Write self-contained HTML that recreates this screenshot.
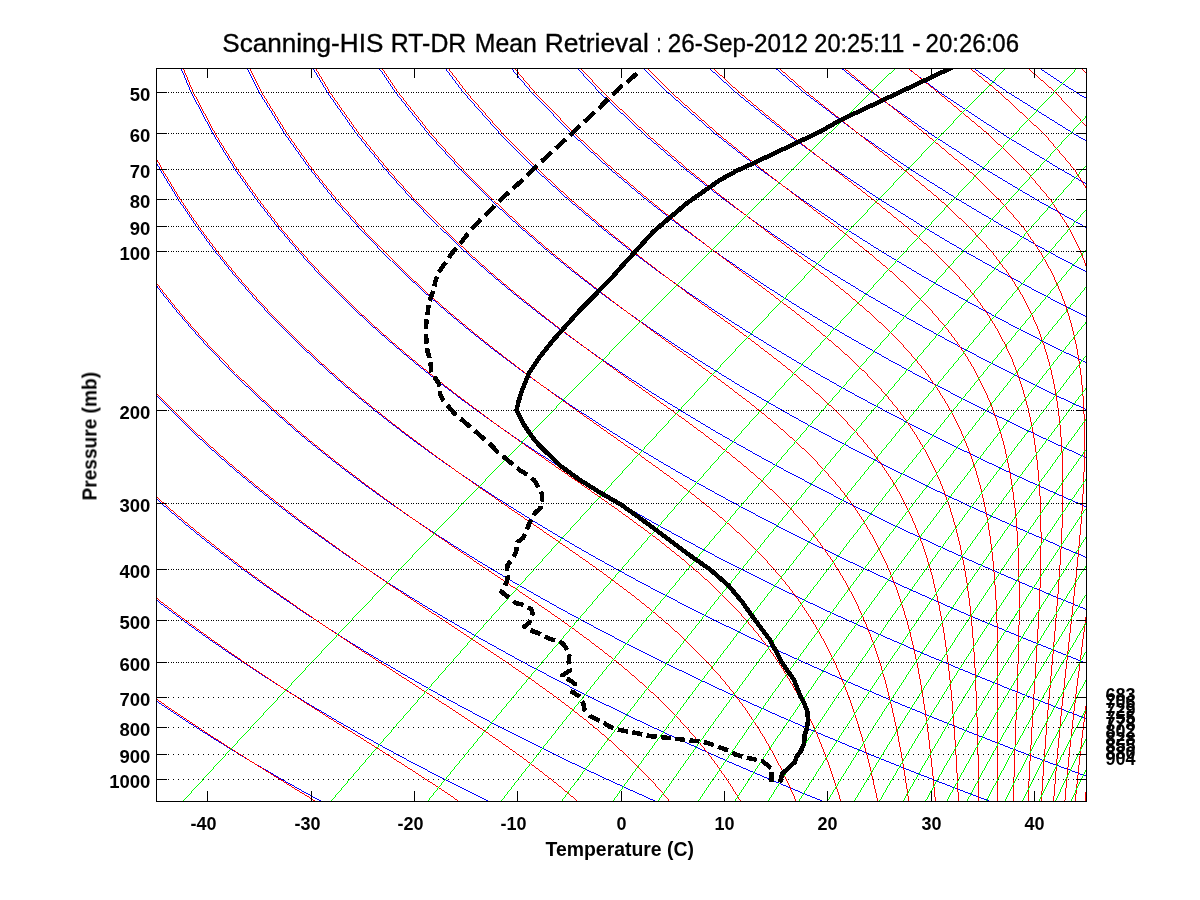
<!DOCTYPE html><html><head><meta charset="utf-8"><style>html,body{margin:0;padding:0;background:#fff;}svg{display:block;}text{font-family:"Liberation Sans",sans-serif;}</style></head><body><svg width="1200" height="900" viewBox="0 0 1200 900"><rect width="1200" height="900" fill="#fff"/><defs><clipPath id="pc"><rect x="157" y="69" width="929" height="732"/></clipPath></defs><g clip-path="url(#pc)" fill="none" stroke-width="1" shape-rendering="crispEdges"><path fill="#0000ff" stroke="none" d="M154.0,801.9 150.6,799.8 150.6,798.8 154.0,800.9ZM321.3,801.9 317.4,799.8 313.6,797.6 309.7,795.5 305.8,793.4 301.9,791.2 298.0,789.0 294.1,786.8 290.1,784.5 286.1,782.3 282.1,780.0 278.1,777.7 274.1,775.4 270.0,773.0 266.0,770.6 261.9,768.2 257.7,765.8 253.6,763.4 249.4,760.9 245.2,758.4 241.0,755.8 236.8,753.3 232.6,750.7 228.3,748.1 224.0,745.4 219.7,742.7 215.3,740.0 211.0,737.3 206.6,734.5 202.1,731.7 197.7,728.8 193.2,725.9 188.7,723.0 184.2,720.1 179.7,717.1 175.1,714.0 170.5,710.9 165.8,707.8 161.2,704.7 156.5,701.5 151.8,698.2 151.8,697.2 156.5,700.5 161.2,703.7 165.8,706.8 170.5,709.9 175.1,713.0 179.7,716.1 184.2,719.1 188.7,722.0 193.2,724.9 197.7,727.8 202.1,730.7 206.6,733.5 211.0,736.3 215.3,739.0 219.7,741.7 224.0,744.4 228.3,747.1 232.6,749.7 236.8,752.3 241.0,754.8 245.2,757.4 249.4,759.9 253.6,762.4 257.7,764.8 261.9,767.2 266.0,769.6 270.0,772.0 274.1,774.4 278.1,776.7 282.1,779.0 286.1,781.3 290.1,783.5 294.1,785.8 298.0,788.0 301.9,790.2 305.8,792.4 309.7,794.5 313.6,796.6 317.4,798.8 321.3,800.9ZM488.5,801.9 484.3,799.8 480.0,797.6 475.6,795.5 471.3,793.4 466.9,791.2 462.6,789.0 458.2,786.8 453.7,784.5 449.3,782.3 444.8,780.0 440.3,777.7 435.8,775.4 431.3,773.0 426.7,770.6 422.1,768.2 417.5,765.8 412.9,763.4 408.2,760.9 403.5,758.4 398.8,755.8 394.1,753.3 389.3,750.7 384.5,748.1 379.7,745.4 374.8,742.7 370.0,740.0 365.1,737.3 360.1,734.5 355.2,731.7 350.2,728.8 345.1,725.9 340.1,723.0 335.0,720.1 329.9,717.1 324.7,714.0 319.5,710.9 314.3,707.8 309.1,704.7 303.8,701.5 298.4,698.2 293.1,694.9 287.7,691.6 282.2,688.2 276.8,684.7 271.3,681.2 265.7,677.7 260.1,674.0 254.5,670.4 248.8,666.6 243.1,662.9 237.3,659.0 231.5,655.1 225.7,651.1 219.8,647.0 213.8,642.9 207.8,638.7 201.8,634.4 195.7,630.0 189.6,625.6 183.4,621.0 177.1,616.4 170.8,611.7 164.5,606.9 158.1,601.9 151.6,596.9 151.6,595.9 158.1,600.9 164.5,605.9 170.8,610.7 177.1,615.4 183.4,620.0 189.6,624.6 195.7,629.0 201.8,633.4 207.8,637.7 213.8,641.9 219.8,646.0 225.7,650.1 231.5,654.1 237.3,658.0 243.1,661.9 248.8,665.6 254.5,669.4 260.1,673.0 265.7,676.7 271.3,680.2 276.8,683.7 282.2,687.2 287.7,690.6 293.1,693.9 298.4,697.2 303.8,700.5 309.1,703.7 314.3,706.8 319.5,709.9 324.7,713.0 329.9,716.1 335.0,719.1 340.1,722.0 345.1,724.9 350.2,727.8 355.2,730.7 360.1,733.5 365.1,736.3 370.0,739.0 374.8,741.7 379.7,744.4 384.5,747.1 389.3,749.7 394.1,752.3 398.8,754.8 403.5,757.4 408.2,759.9 412.9,762.4 417.5,764.8 422.1,767.2 426.7,769.6 431.3,772.0 435.8,774.4 440.3,776.7 444.8,779.0 449.3,781.3 453.7,783.5 458.2,785.8 462.6,788.0 466.9,790.2 471.3,792.4 475.6,794.5 480.0,796.6 484.3,798.8 488.5,800.9ZM655.8,801.9 651.1,799.8 646.3,797.6 641.6,795.5 636.8,793.4 632.0,791.2 627.1,789.0 622.3,786.8 617.4,784.5 612.5,782.3 607.5,780.0 602.5,777.7 597.5,775.4 592.5,773.0 587.5,770.6 582.4,768.2 577.3,765.8 572.2,763.4 567.0,760.9 561.8,758.4 556.6,755.8 551.3,753.3 546.1,750.7 540.7,748.1 535.4,745.4 530.0,742.7 524.6,740.0 519.2,737.3 513.7,734.5 508.2,731.7 502.6,728.8 497.0,725.9 491.4,723.0 485.8,720.1 480.1,717.1 474.3,714.0 468.6,710.9 462.8,707.8 456.9,704.7 451.0,701.5 445.1,698.2 439.1,694.9 433.1,691.6 427.0,688.2 420.9,684.7 414.8,681.2 408.6,677.7 402.3,674.0 396.0,670.4 389.7,666.6 383.3,662.9 376.9,659.0 370.4,655.1 363.8,651.1 357.2,647.0 350.5,642.9 343.8,638.7 337.1,634.4 330.2,630.0 323.3,625.6 316.4,621.0 309.3,616.4 302.2,611.7 295.1,606.9 287.9,601.9 280.6,596.9 273.2,591.7 265.8,586.5 258.2,581.1 250.6,575.5 243.0,569.9 235.2,564.1 227.4,558.1 219.5,552.0 211.4,545.7 203.3,539.2 195.1,532.6 186.8,525.8 178.5,518.7 170.0,511.4 161.4,503.9 152.7,496.1 152.7,495.1 161.4,502.9 170.0,510.4 178.5,517.7 186.8,524.8 195.1,531.6 203.3,538.2 211.4,544.7 219.5,551.0 227.4,557.1 235.2,563.1 243.0,568.9 250.6,574.5 258.2,580.1 265.8,585.5 273.2,590.7 280.6,595.9 287.9,600.9 295.1,605.9 302.2,610.7 309.3,615.4 316.4,620.0 323.3,624.6 330.2,629.0 337.1,633.4 343.8,637.7 350.5,641.9 357.2,646.0 363.8,650.1 370.4,654.1 376.9,658.0 383.3,661.9 389.7,665.6 396.0,669.4 402.3,673.0 408.6,676.7 414.8,680.2 420.9,683.7 427.0,687.2 433.1,690.6 439.1,693.9 445.1,697.2 451.0,700.5 456.9,703.7 462.8,706.8 468.6,709.9 474.3,713.0 480.1,716.1 485.8,719.1 491.4,722.0 497.0,724.9 502.6,727.8 508.2,730.7 513.7,733.5 519.2,736.3 524.6,739.0 530.0,741.7 535.4,744.4 540.7,747.1 546.1,749.7 551.3,752.3 556.6,754.8 561.8,757.4 567.0,759.9 572.2,762.4 577.3,764.8 582.4,767.2 587.5,769.6 592.5,772.0 597.5,774.4 602.5,776.7 607.5,779.0 612.5,781.3 617.4,783.5 622.3,785.8 627.1,788.0 632.0,790.2 636.8,792.4 641.6,794.5 646.3,796.6 651.1,798.8 655.8,800.9ZM823.0,801.9 817.9,799.8 812.7,797.6 807.5,795.5 802.2,793.4 797.0,791.2 791.7,789.0 786.3,786.8 781.0,784.5 775.6,782.3 770.2,780.0 764.8,777.7 759.3,775.4 753.8,773.0 748.2,770.6 742.7,768.2 737.1,765.8 731.5,763.4 725.8,760.9 720.1,758.4 714.4,755.8 708.6,753.3 702.8,750.7 697.0,748.1 691.1,745.4 685.2,742.7 679.3,740.0 673.3,737.3 667.3,734.5 661.2,731.7 655.1,728.8 649.0,725.9 642.8,723.0 636.5,720.1 630.3,717.1 624.0,714.0 617.6,710.9 611.2,707.8 604.8,704.7 598.3,701.5 591.8,698.2 585.2,694.9 578.5,691.6 571.8,688.2 565.1,684.7 558.3,681.2 551.5,677.7 544.6,674.0 537.6,670.4 530.6,666.6 523.5,662.9 516.4,659.0 509.2,655.1 502.0,651.1 494.7,647.0 487.3,642.9 479.8,638.7 472.3,634.4 464.7,630.0 457.1,625.6 449.3,621.0 441.5,616.4 433.7,611.7 425.7,606.9 417.7,601.9 409.5,596.9 401.3,591.7 393.0,586.5 384.7,581.1 376.2,575.5 367.6,569.9 358.9,564.1 350.2,558.1 341.3,552.0 332.3,545.7 323.2,539.2 314.0,532.6 304.7,525.8 295.3,518.7 285.7,511.4 276.0,503.9 266.2,496.1 256.2,488.1 246.1,479.7 235.8,471.1 225.4,462.1 214.9,452.7 204.2,443.0 193.3,432.8 182.2,422.1 171.0,410.9 171.0,409.9 182.2,421.1 193.3,431.8 204.2,442.0 214.9,451.7 225.4,461.1 235.8,470.1 246.1,478.7 256.2,487.1 266.2,495.1 276.0,502.9 285.7,510.4 295.3,517.7 304.7,524.8 314.0,531.6 323.2,538.2 332.3,544.7 341.3,551.0 350.2,557.1 358.9,563.1 367.6,568.9 376.2,574.5 384.7,580.1 393.0,585.5 401.3,590.7 409.5,595.9 417.7,600.9 425.7,605.9 433.7,610.7 441.5,615.4 449.3,620.0 457.1,624.6 464.7,629.0 472.3,633.4 479.8,637.7 487.3,641.9 494.7,646.0 502.0,650.1 509.2,654.1 516.4,658.0 523.5,661.9 530.6,665.6 537.6,669.4 544.6,673.0 551.5,676.7 558.3,680.2 565.1,683.7 571.8,687.2 578.5,690.6 585.2,693.9 591.8,697.2 598.3,700.5 604.8,703.7 611.2,706.8 617.6,709.9 624.0,713.0 630.3,716.1 636.5,719.1 642.8,722.0 649.0,724.9 655.1,727.8 661.2,730.7 667.3,733.5 673.3,736.3 679.3,739.0 685.2,741.7 691.1,744.4 697.0,747.1 702.8,749.7 708.6,752.3 714.4,754.8 720.1,757.4 725.8,759.9 731.5,762.4 737.1,764.8 742.7,767.2 748.2,769.6 753.8,772.0 759.3,774.4 764.8,776.7 770.2,779.0 775.6,781.3 781.0,783.5 786.3,785.8 791.7,788.0 797.0,790.2 802.2,792.4 807.5,794.5 812.7,796.6 817.9,798.8 823.0,800.9ZM170.5,410.4 159.1,398.7 147.5,386.3 148.5,386.3 160.1,398.7 171.5,410.4ZM990.3,801.9 984.7,799.8 979.1,797.6 973.4,795.5 967.7,793.4 962.0,791.2 956.2,789.0 950.4,786.8 944.6,784.5 938.8,782.3 932.9,780.0 927.0,777.7 921.0,775.4 915.0,773.0 909.0,770.6 903.0,768.2 896.9,765.8 890.7,763.4 884.6,760.9 878.4,758.4 872.1,755.8 865.9,753.3 859.6,750.7 853.2,748.1 846.8,745.4 840.4,742.7 833.9,740.0 827.4,737.3 820.8,734.5 814.2,731.7 807.6,728.8 800.9,725.9 794.1,723.0 787.3,720.1 780.5,717.1 773.6,714.0 766.7,710.9 759.7,707.8 752.6,704.7 745.6,701.5 738.4,698.2 731.2,694.9 724.0,691.6 716.6,688.2 709.3,684.7 701.8,681.2 694.4,677.7 686.8,674.0 679.2,670.4 671.5,666.6 663.8,662.9 656.0,659.0 648.1,655.1 640.1,651.1 632.1,647.0 624.0,642.9 615.8,638.7 607.6,634.4 599.2,630.0 590.8,625.6 582.3,621.0 573.8,616.4 565.1,611.7 556.3,606.9 547.5,601.9 538.5,596.9 529.5,591.7 520.3,586.5 511.1,581.1 501.7,575.5 492.2,569.9 482.7,564.1 473.0,558.1 463.1,552.0 453.2,545.7 443.1,539.2 432.9,532.6 422.6,525.8 412.1,518.7 401.4,511.4 390.6,503.9 379.7,496.1 368.6,488.1 357.3,479.7 345.8,471.1 334.2,462.1 322.3,452.7 310.3,443.0 298.0,432.8 285.6,422.1 272.9,410.9 259.9,399.2 246.8,386.8 233.3,373.6 233.3,372.6 246.8,385.8 259.9,398.2 272.9,409.9 285.6,421.1 298.0,431.8 310.3,442.0 322.3,451.7 334.2,461.1 345.8,470.1 357.3,478.7 368.6,487.1 379.7,495.1 390.6,502.9 401.4,510.4 412.1,517.7 422.6,524.8 432.9,531.6 443.1,538.2 453.2,544.7 463.1,551.0 473.0,557.1 482.7,563.1 492.2,568.9 501.7,574.5 511.1,580.1 520.3,585.5 529.5,590.7 538.5,595.9 547.5,600.9 556.3,605.9 565.1,610.7 573.8,615.4 582.3,620.0 590.8,624.6 599.2,629.0 607.6,633.4 615.8,637.7 624.0,641.9 632.1,646.0 640.1,650.1 648.1,654.1 656.0,658.0 663.8,661.9 671.5,665.6 679.2,669.4 686.8,673.0 694.4,676.7 701.8,680.2 709.3,683.7 716.6,687.2 724.0,690.6 731.2,693.9 738.4,697.2 745.6,700.5 752.6,703.7 759.7,706.8 766.7,709.9 773.6,713.0 780.5,716.1 787.3,719.1 794.1,722.0 800.9,724.9 807.6,727.8 814.2,730.7 820.8,733.5 827.4,736.3 833.9,739.0 840.4,741.7 846.8,744.4 853.2,747.1 859.6,749.7 865.9,752.3 872.1,754.8 878.4,757.4 884.6,759.9 890.7,762.4 896.9,764.8 903.0,767.2 909.0,769.6 915.0,772.0 921.0,774.4 927.0,776.7 932.9,779.0 938.8,781.3 944.6,783.5 950.4,785.8 956.2,788.0 962.0,790.2 967.7,792.4 973.4,794.5 979.1,796.6 984.7,798.8 990.3,800.9ZM232.8,373.1 219.2,359.2 205.2,344.4 191.0,328.6 176.5,311.6 161.7,293.3 146.7,273.3 147.7,273.3 162.7,293.3 177.5,311.6 192.0,328.6 206.2,344.4 220.2,359.2 233.8,373.1ZM1089.2,777.7 1082.7,775.4 1076.3,773.0 1069.8,770.6 1063.2,768.2 1056.7,765.8 1050.0,763.4 1043.4,760.9 1036.7,758.4 1029.9,755.8 1023.1,753.3 1016.3,750.7 1009.4,748.1 1002.5,745.4 995.5,742.7 988.5,740.0 981.5,737.3 974.4,734.5 967.2,731.7 960.0,728.8 952.8,725.9 945.5,723.0 938.1,720.1 930.7,717.1 923.2,714.0 915.7,710.9 908.1,707.8 900.5,704.7 892.8,701.5 885.1,698.2 877.3,694.9 869.4,691.6 861.4,688.2 853.4,684.7 845.4,681.2 837.2,677.7 829.0,674.0 820.8,670.4 812.4,666.6 804.0,662.9 795.5,659.0 786.9,655.1 778.3,651.1 769.5,647.0 760.7,642.9 751.8,638.7 742.8,634.4 733.8,630.0 724.6,625.6 715.3,621.0 706.0,616.4 696.5,611.7 686.9,606.9 677.3,601.9 667.5,596.9 657.6,591.7 647.6,586.5 637.5,581.1 627.2,575.5 616.9,569.9 606.4,564.1 595.7,558.1 585.0,552.0 574.1,545.7 563.0,539.2 551.8,532.6 540.4,525.8 528.9,518.7 517.2,511.4 505.3,503.9 493.2,496.1 480.9,488.1 468.4,479.7 455.8,471.1 442.9,462.1 429.7,452.7 416.4,443.0 402.8,432.8 388.9,422.1 374.7,410.9 360.3,399.2 345.6,386.8 330.5,373.6 315.1,359.7 299.4,344.9 283.3,329.1 283.3,328.1 299.4,343.9 315.1,358.7 330.5,372.6 345.6,385.8 360.3,398.2 374.7,409.9 388.9,421.1 402.8,431.8 416.4,442.0 429.7,451.7 442.9,461.1 455.8,470.1 468.4,478.7 480.9,487.1 493.2,495.1 505.3,502.9 517.2,510.4 528.9,517.7 540.4,524.8 551.8,531.6 563.0,538.2 574.1,544.7 585.0,551.0 595.7,557.1 606.4,563.1 616.9,568.9 627.2,574.5 637.5,580.1 647.6,585.5 657.6,590.7 667.5,595.9 677.3,600.9 686.9,605.9 696.5,610.7 706.0,615.4 715.3,620.0 724.6,624.6 733.8,629.0 742.8,633.4 751.8,637.7 760.7,641.9 769.5,646.0 778.3,650.1 786.9,654.1 795.5,658.0 804.0,661.9 812.4,665.6 820.8,669.4 829.0,673.0 837.2,676.7 845.4,680.2 853.4,683.7 861.4,687.2 869.4,690.6 877.3,693.9 885.1,697.2 892.8,700.5 900.5,703.7 908.1,706.8 915.7,709.9 923.2,713.0 930.7,716.1 938.1,719.1 945.5,722.0 952.8,724.9 960.0,727.8 967.2,730.7 974.4,733.5 981.5,736.3 988.5,739.0 995.5,741.7 1002.5,744.4 1009.4,747.1 1016.3,749.7 1023.1,752.3 1029.9,754.8 1036.7,757.4 1043.4,759.9 1050.0,762.4 1056.7,764.8 1063.2,767.2 1069.8,769.6 1076.3,772.0 1082.7,774.4 1089.2,776.7ZM282.8,328.6 266.4,311.6 249.5,293.3 232.3,273.3 214.7,251.5 196.7,227.3 178.3,200.3 159.7,169.7 141.0,134.3 142.0,134.3 160.7,169.7 179.3,200.3 197.7,227.3 215.7,251.5 233.3,273.3 250.5,293.3 267.4,311.6 283.8,328.6ZM1096.8,723.0 1088.9,720.1 1080.9,717.1 1072.9,714.0 1064.8,710.9 1056.6,707.8 1048.4,704.7 1040.1,701.5 1031.7,698.2 1023.3,694.9 1014.8,691.6 1006.2,688.2 997.6,684.7 988.9,681.2 980.1,677.7 971.3,674.0 962.3,670.4 953.3,666.6 944.2,662.9 935.0,659.0 925.8,655.1 916.4,651.1 907.0,647.0 897.5,642.9 887.8,638.7 878.1,634.4 868.3,630.0 858.3,625.6 848.3,621.0 838.2,616.4 827.9,611.7 817.6,606.9 807.1,601.9 796.5,596.9 785.7,591.7 774.9,586.5 763.9,581.1 752.8,575.5 741.5,569.9 730.1,564.1 718.5,558.1 706.8,552.0 694.9,545.7 682.9,539.2 670.7,532.6 658.3,525.8 645.7,518.7 632.9,511.4 619.9,503.9 606.7,496.1 593.3,488.1 579.6,479.7 565.7,471.1 551.6,462.1 537.2,452.7 522.5,443.0 507.5,432.8 492.2,422.1 476.6,410.9 460.7,399.2 444.4,386.8 427.7,373.6 410.6,359.7 393.1,344.9 375.2,329.1 356.8,312.1 337.9,293.8 337.9,292.8 356.8,311.1 375.2,328.1 393.1,343.9 410.6,358.7 427.7,372.6 444.4,385.8 460.7,398.2 476.6,409.9 492.2,421.1 507.5,431.8 522.5,442.0 537.2,451.7 551.6,461.1 565.7,470.1 579.6,478.7 593.3,487.1 606.7,495.1 619.9,502.9 632.9,510.4 645.7,517.7 658.3,524.8 670.7,531.6 682.9,538.2 694.9,544.7 706.8,551.0 718.5,557.1 730.1,563.1 741.5,568.9 752.8,574.5 763.9,580.1 774.9,585.5 785.7,590.7 796.5,595.9 807.1,600.9 817.6,605.9 827.9,610.7 838.2,615.4 848.3,620.0 858.3,624.6 868.3,629.0 878.1,633.4 887.8,637.7 897.5,641.9 907.0,646.0 916.4,650.1 925.8,654.1 935.0,658.0 944.2,661.9 953.3,665.6 962.3,669.4 971.3,673.0 980.1,676.7 988.9,680.2 997.6,683.7 1006.2,687.2 1014.8,690.6 1023.3,693.9 1031.7,697.2 1040.1,700.5 1048.4,703.7 1056.6,706.8 1064.8,709.9 1072.9,713.0 1080.9,716.1 1088.9,719.1 1096.8,722.0ZM337.4,293.3 317.9,273.3 298.0,251.5 277.4,227.3 256.4,200.3 234.8,169.7 212.8,134.3 190.7,92.5 169.1,41.3 170.1,41.3 191.7,92.5 213.8,134.3 235.8,169.7 257.4,200.3 278.4,227.3 299.0,251.5 318.9,273.3 338.4,293.3ZM1094.2,666.6 1084.5,662.9 1074.6,659.0 1064.6,655.1 1054.6,651.1 1044.4,647.0 1034.2,642.9 1023.8,638.7 1013.4,634.4 1002.8,630.0 992.1,625.6 981.3,621.0 970.4,616.4 959.3,611.7 948.2,606.9 936.9,601.9 925.4,596.9 913.9,591.7 902.2,586.5 890.3,581.1 878.3,575.5 866.1,569.9 853.8,564.1 841.3,558.1 828.7,552.0 815.8,545.7 802.8,539.2 789.5,532.6 776.1,525.8 762.5,518.7 748.6,511.4 734.5,503.9 720.2,496.1 705.6,488.1 690.8,479.7 675.7,471.1 660.3,462.1 644.6,452.7 628.6,443.0 612.3,432.8 595.6,422.1 578.5,410.9 561.1,399.2 543.2,386.8 524.9,373.6 506.1,359.7 486.8,344.9 467.0,329.1 446.7,312.1 425.7,293.8 404.1,273.8 381.8,252.0 381.8,251.0 404.1,272.8 425.7,292.8 446.7,311.1 467.0,328.1 486.8,343.9 506.1,358.7 524.9,372.6 543.2,385.8 561.1,398.2 578.5,409.9 595.6,421.1 612.3,431.8 628.6,442.0 644.6,451.7 660.3,461.1 675.7,470.1 690.8,478.7 705.6,487.1 720.2,495.1 734.5,502.9 748.6,510.4 762.5,517.7 776.1,524.8 789.5,531.6 802.8,538.2 815.8,544.7 828.7,551.0 841.3,557.1 853.8,563.1 866.1,568.9 878.3,574.5 890.3,580.1 902.2,585.5 913.9,590.7 925.4,595.9 936.9,600.9 948.2,605.9 959.3,610.7 970.4,615.4 981.3,620.0 992.1,624.6 1002.8,629.0 1013.4,633.4 1023.8,637.7 1034.2,641.9 1044.4,646.0 1054.6,650.1 1064.6,654.1 1074.6,658.0 1084.5,661.9 1094.2,665.6ZM381.3,251.5 358.2,227.3 334.4,200.3 309.9,169.7 284.6,134.3 258.8,92.5 232.9,41.3 233.9,41.3 259.8,92.5 285.6,134.3 310.9,169.7 335.4,200.3 359.2,227.3 382.3,251.5ZM1090.8,611.7 1078.8,606.9 1066.7,601.9 1054.4,596.9 1042.0,591.7 1029.5,586.5 1016.7,581.1 1003.8,575.5 990.8,569.9 977.5,564.1 964.1,558.1 950.5,552.0 936.7,545.7 922.7,539.2 908.4,532.6 894.0,525.8 879.3,518.7 864.3,511.4 849.2,503.9 833.7,496.1 818.0,488.1 802.0,479.7 785.6,471.1 769.0,462.1 752.0,452.7 734.7,443.0 717.0,432.8 698.9,422.1 680.4,410.9 661.4,399.2 642.0,386.8 622.1,373.6 601.6,359.7 580.6,344.9 558.9,329.1 536.6,312.1 513.5,293.8 489.7,273.8 465.0,252.0 439.5,227.8 439.5,226.8 465.0,251.0 489.7,272.8 513.5,292.8 536.6,311.1 558.9,328.1 580.6,343.9 601.6,358.7 622.1,372.6 642.0,385.8 661.4,398.2 680.4,409.9 698.9,421.1 717.0,431.8 734.7,442.0 752.0,451.7 769.0,461.1 785.6,470.1 802.0,478.7 818.0,487.1 833.7,495.1 849.2,502.9 864.3,510.4 879.3,517.7 894.0,524.8 908.4,531.6 922.7,538.2 936.7,544.7 950.5,551.0 964.1,557.1 977.5,563.1 990.8,568.9 1003.8,574.5 1016.7,580.1 1029.5,585.5 1042.0,590.7 1054.4,595.9 1066.7,600.9 1078.8,605.9 1090.8,610.7ZM439.0,227.3 412.5,200.3 385.0,169.7 356.4,134.3 326.9,92.5 296.7,41.3 297.7,41.3 327.9,92.5 357.4,134.3 386.0,169.7 413.5,200.3 440.0,227.3ZM1101.3,564.1 1086.9,558.1 1072.3,552.0 1057.6,545.7 1042.5,539.2 1027.3,532.6 1011.8,525.8 996.1,518.7 980.1,511.4 963.8,503.9 947.2,496.1 930.3,488.1 913.1,479.7 895.6,471.1 877.7,462.1 859.5,452.7 840.8,443.0 821.8,432.8 802.2,422.1 782.3,410.9 761.8,399.2 740.8,386.8 719.3,373.6 697.1,359.7 674.3,344.9 650.7,329.1 626.4,312.1 601.3,293.8 575.3,273.8 548.3,252.0 520.3,227.8 491.0,200.8 491.0,199.8 520.3,226.8 548.3,251.0 575.3,272.8 601.3,292.8 626.4,311.1 650.7,328.1 674.3,343.9 697.1,358.7 719.3,372.6 740.8,385.8 761.8,398.2 782.3,409.9 802.2,421.1 821.8,431.8 840.8,442.0 859.5,451.7 877.7,461.1 895.6,470.1 913.1,478.7 930.3,487.1 947.2,495.1 963.8,502.9 980.1,510.4 996.1,517.7 1011.8,524.8 1027.3,531.6 1042.5,538.2 1057.6,544.7 1072.3,551.0 1086.9,557.1 1101.3,563.1ZM490.5,200.3 460.0,169.7 428.2,134.3 395.0,92.5 360.5,41.3 361.5,41.3 396.0,92.5 429.2,134.3 461.0,169.7 491.5,200.3ZM1095.8,511.4 1078.4,503.9 1060.7,496.1 1042.7,488.1 1024.3,479.7 1005.6,471.1 986.4,462.1 966.9,452.7 946.9,443.0 926.5,432.8 905.6,422.1 884.2,410.9 862.2,399.2 839.6,386.8 816.4,373.6 792.6,359.7 768.0,344.9 742.6,329.1 716.3,312.1 689.2,293.8 660.9,273.8 631.6,252.0 601.0,227.8 569.1,200.8 535.6,170.2 535.6,169.2 569.1,199.8 601.0,226.8 631.6,251.0 660.9,272.8 689.2,292.8 716.3,311.1 742.6,328.1 768.0,343.9 792.6,358.7 816.4,372.6 839.6,385.8 862.2,398.2 884.2,409.9 905.6,421.1 926.5,431.8 946.9,442.0 966.9,451.7 986.4,461.1 1005.6,470.1 1024.3,478.7 1042.7,487.1 1060.7,495.1 1078.4,502.9 1095.8,510.4ZM535.1,169.7 500.0,134.3 463.0,92.5 424.3,41.3 425.3,41.3 464.0,92.5 501.0,134.3 536.1,169.7ZM1095.1,462.1 1074.3,452.7 1053.0,443.0 1031.2,432.8 1008.9,422.1 986.0,410.9 962.6,399.2 938.4,386.8 913.6,373.6 888.0,359.7 861.7,344.9 834.4,329.1 806.2,312.1 777.0,293.8 746.6,273.8 714.9,252.0 681.8,227.8 647.1,200.8 610.7,170.2 572.3,134.8 572.3,133.8 610.7,169.2 647.1,199.8 681.8,226.8 714.9,251.0 746.6,272.8 777.0,292.8 806.2,311.1 834.4,328.1 861.7,343.9 888.0,358.7 913.6,372.6 938.4,385.8 962.6,398.2 986.0,409.9 1008.9,421.1 1031.2,431.8 1053.0,442.0 1074.3,451.7 1095.1,461.1ZM571.8,134.3 531.1,92.5 488.1,41.3 489.1,41.3 532.1,92.5 572.8,134.3ZM1112.3,422.1 1087.9,410.9 1062.9,399.2 1037.2,386.8 1010.8,373.6 983.5,359.7 955.4,344.9 926.3,329.1 896.1,312.1 864.8,293.8 832.2,273.8 798.2,252.0 762.6,227.8 725.2,200.8 685.8,170.2 644.1,134.8 599.7,93.0 599.7,92.0 644.1,133.8 685.8,169.2 725.2,199.8 762.6,226.8 798.2,251.0 832.2,272.8 864.8,292.8 896.1,311.1 926.3,328.1 955.4,343.9 983.5,358.7 1010.8,372.6 1037.2,385.8 1062.9,398.2 1087.9,409.9 1112.3,421.1ZM599.2,92.5 551.9,41.3 552.9,41.3 600.2,92.5ZM1108.0,373.6 1079.0,359.7 1049.1,344.9 1018.1,329.1 986.0,312.1 952.6,293.8 917.8,273.8 881.5,252.0 843.4,227.8 803.2,200.8 760.9,170.2 715.8,134.8 667.8,93.0 616.2,41.8 616.2,40.8 667.8,92.0 715.8,133.8 760.9,169.2 803.2,199.8 843.4,226.8 881.5,251.0 917.8,272.8 952.6,292.8 986.0,311.1 1018.1,328.1 1049.1,343.9 1079.0,358.7 1108.0,372.6ZM1110.0,329.1 1075.9,312.1 1040.4,293.8 1003.5,273.8 964.8,252.0 924.1,227.8 881.3,200.8 835.9,170.2 787.6,134.8 735.9,93.0 680.0,41.8 680.0,40.8 735.9,92.0 787.6,133.8 835.9,169.2 881.3,199.8 924.1,226.8 964.8,251.0 1003.5,272.8 1040.4,292.8 1075.9,311.1 1110.0,328.1ZM1089.1,273.8 1048.0,252.0 1004.9,227.8 959.4,200.8 911.0,170.2 859.4,134.8 804.0,93.0 743.8,41.8 743.8,40.8 804.0,92.0 859.4,133.8 911.0,169.2 959.4,199.8 1004.9,226.8 1048.0,251.0 1089.1,272.8ZM1131.3,252.0 1085.7,227.8 1037.4,200.8 986.1,170.2 931.2,134.8 872.0,93.0 807.6,41.8 807.6,40.8 872.0,92.0 931.2,133.8 986.1,169.2 1037.4,199.8 1085.7,226.8 1131.3,251.0ZM1115.5,200.8 1061.2,170.2 1003.0,134.8 940.1,93.0 871.4,41.8 871.4,40.8 940.1,92.0 1003.0,133.8 1061.2,169.2 1115.5,199.8ZM1136.3,170.2 1074.8,134.8 1008.2,93.0 935.2,41.8 935.2,40.8 1008.2,92.0 1074.8,133.8 1136.3,169.2ZM1146.6,134.8 1076.3,93.0 999.0,41.8 999.0,40.8 1076.3,92.0 1146.6,133.8ZM1144.4,93.0 1062.8,41.8 1062.8,40.8 1144.4,92.0Z"/><path fill="#ff0000" stroke="none" d="M156.9,801.9 153.7,799.8 153.7,798.8 156.9,800.9ZM315.5,801.9 312.1,799.8 308.7,797.6 305.2,795.5 301.7,793.4 298.2,791.2 294.7,789.0 291.1,786.8 287.4,784.5 283.8,782.3 280.1,780.0 276.4,777.7 272.6,775.4 268.9,773.0 265.0,770.6 261.2,768.2 257.3,765.8 253.4,763.4 249.5,760.9 245.5,758.4 241.5,755.8 237.5,753.3 233.4,750.7 229.3,748.1 225.1,745.4 221.0,742.7 216.8,740.0 212.5,737.3 208.3,734.5 204.0,731.7 199.7,728.8 195.3,725.9 190.9,723.0 186.5,720.1 182.0,717.1 177.5,714.0 173.0,710.9 168.4,707.8 163.8,704.7 159.2,701.5 154.5,698.2 149.8,694.9 149.8,693.9 154.5,697.2 159.2,700.5 163.8,703.7 168.4,706.8 173.0,709.9 177.5,713.0 182.0,716.1 186.5,719.1 190.9,722.0 195.3,724.9 199.7,727.8 204.0,730.7 208.3,733.5 212.5,736.3 216.8,739.0 221.0,741.7 225.1,744.4 229.3,747.1 233.4,749.7 237.5,752.3 241.5,754.8 245.5,757.4 249.5,759.9 253.4,762.4 257.3,764.8 261.2,767.2 265.0,769.6 268.9,772.0 272.6,774.4 276.4,776.7 280.1,779.0 283.8,781.3 287.4,783.5 291.1,785.8 294.7,788.0 298.2,790.2 301.7,792.4 305.2,794.5 308.7,796.6 312.1,798.8 315.5,800.9ZM459.0,801.9 455.9,799.8 452.8,797.6 449.7,795.5 446.4,793.4 443.2,791.2 439.9,789.0 436.5,786.8 433.1,784.5 429.7,782.3 426.2,780.0 422.7,777.7 419.1,775.4 415.4,773.0 411.7,770.6 408.0,768.2 404.2,765.8 400.4,763.4 396.5,760.9 392.5,758.4 388.6,755.8 384.5,753.3 380.4,750.7 376.3,748.1 372.1,745.4 367.8,742.7 363.5,740.0 359.2,737.3 354.7,734.5 350.3,731.7 345.8,728.8 341.2,725.9 336.6,723.0 331.9,720.1 327.2,717.1 322.4,714.0 317.6,710.9 312.7,707.8 307.7,704.7 302.8,701.5 297.7,698.2 292.6,694.9 287.5,691.6 282.3,688.2 277.1,684.7 271.8,681.2 266.4,677.7 261.0,674.0 255.6,670.4 250.0,666.6 244.5,662.9 238.9,659.0 233.2,655.1 227.5,651.1 221.7,647.0 215.8,642.9 209.9,638.7 204.0,634.4 198.0,630.0 191.9,625.6 185.8,621.0 179.6,616.4 173.4,611.7 167.1,606.9 160.7,601.9 154.3,596.9 147.8,591.7 147.8,590.7 154.3,595.9 160.7,600.9 167.1,605.9 173.4,610.7 179.6,615.4 185.8,620.0 191.9,624.6 198.0,629.0 204.0,633.4 209.9,637.7 215.8,641.9 221.7,646.0 227.5,650.1 233.2,654.1 238.9,658.0 244.5,661.9 250.0,665.6 255.6,669.4 261.0,673.0 266.4,676.7 271.8,680.2 277.1,683.7 282.3,687.2 287.5,690.6 292.6,693.9 297.7,697.2 302.8,700.5 307.7,703.7 312.7,706.8 317.6,709.9 322.4,713.0 327.2,716.1 331.9,719.1 336.6,722.0 341.2,724.9 345.8,727.8 350.3,730.7 354.7,733.5 359.2,736.3 363.5,739.0 367.8,741.7 372.1,744.4 376.3,747.1 380.4,749.7 384.5,752.3 388.6,754.8 392.5,757.4 396.5,759.9 400.4,762.4 404.2,764.8 408.0,767.2 411.7,769.6 415.4,772.0 419.1,774.4 422.7,776.7 426.2,779.0 429.7,781.3 433.1,783.5 436.5,785.8 439.9,788.0 443.2,790.2 446.4,792.4 449.7,794.5 452.8,796.6 455.9,798.8 459.0,800.9ZM577.6,801.9 575.2,799.8 572.7,797.6 570.2,795.5 567.6,793.4 565.0,791.2 562.4,789.0 559.7,786.8 556.9,784.5 554.1,782.3 551.2,780.0 548.3,777.7 545.3,775.4 542.3,773.0 539.2,770.6 536.0,768.2 532.8,765.8 529.5,763.4 526.2,760.9 522.8,758.4 519.3,755.8 515.8,753.3 512.2,750.7 508.5,748.1 504.7,745.4 500.9,742.7 497.0,740.0 493.1,737.3 489.0,734.5 484.9,731.7 480.7,728.8 476.5,725.9 472.1,723.0 467.7,720.1 463.2,717.1 458.6,714.0 453.9,710.9 449.1,707.8 444.3,704.7 439.4,701.5 434.4,698.2 429.3,694.9 424.1,691.6 418.9,688.2 413.6,684.7 408.2,681.2 402.7,677.7 397.1,674.0 391.4,670.4 385.7,666.6 379.8,662.9 373.9,659.0 367.9,655.1 361.8,651.1 355.6,647.0 349.3,642.9 343.0,638.7 336.5,634.4 330.0,630.0 323.4,625.6 316.7,621.0 309.9,616.4 303.1,611.7 296.1,606.9 289.1,601.9 281.9,596.9 274.7,591.7 267.4,586.5 260.0,581.1 252.5,575.5 245.0,569.9 237.3,564.1 229.6,558.1 221.7,552.0 213.8,545.7 205.7,539.2 197.6,532.6 189.3,525.8 181.0,518.7 172.5,511.4 164.0,503.9 155.3,496.1 146.5,488.1 146.5,487.1 155.3,495.1 164.0,502.9 172.5,510.4 181.0,517.7 189.3,524.8 197.6,531.6 205.7,538.2 213.8,544.7 221.7,551.0 229.6,557.1 237.3,563.1 245.0,568.9 252.5,574.5 260.0,580.1 267.4,585.5 274.7,590.7 281.9,595.9 289.1,600.9 296.1,605.9 303.1,610.7 309.9,615.4 316.7,620.0 323.4,624.6 330.0,629.0 336.5,633.4 343.0,637.7 349.3,641.9 355.6,646.0 361.8,650.1 367.9,654.1 373.9,658.0 379.8,661.9 385.7,665.6 391.4,669.4 397.1,673.0 402.7,676.7 408.2,680.2 413.6,683.7 418.9,687.2 424.1,690.6 429.3,693.9 434.4,697.2 439.4,700.5 444.3,703.7 449.1,706.8 453.9,709.9 458.6,713.0 463.2,716.1 467.7,719.1 472.1,722.0 476.5,724.9 480.7,727.8 484.9,730.7 489.0,733.5 493.1,736.3 497.0,739.0 500.9,741.7 504.7,744.4 508.5,747.1 512.2,749.7 515.8,752.3 519.3,754.8 522.8,757.4 526.2,759.9 529.5,762.4 532.8,764.8 536.0,767.2 539.2,769.6 542.3,772.0 545.3,774.4 548.3,776.7 551.2,779.0 554.1,781.3 556.9,783.5 559.7,785.8 562.4,788.0 565.0,790.2 567.6,792.4 570.2,794.5 572.7,796.6 575.2,798.8 577.6,800.9ZM669.2,801.4 667.5,799.3 665.7,797.1 663.8,795.0 662.0,792.9 660.0,790.7 658.1,788.5 656.1,786.3 654.1,784.0 652.0,781.8 649.8,779.5 647.7,777.2 645.4,774.9 643.2,772.5 640.9,770.1 638.5,767.7 639.5,767.7 641.9,770.1 644.2,772.5 646.4,774.9 648.7,777.2 650.8,779.5 653.0,781.8 655.1,784.0 657.1,786.3 659.1,788.5 661.0,790.7 663.0,792.9 664.8,795.0 666.7,797.1 668.5,799.3 670.2,801.4ZM639.0,768.2 636.5,765.8 634.1,763.4 631.5,760.9 628.9,758.4 626.2,755.8 623.5,753.3 620.7,750.7 617.8,748.1 614.9,745.4 611.9,742.7 608.8,740.0 605.6,737.3 602.4,734.5 599.1,731.7 595.7,728.8 592.2,725.9 588.6,723.0 585.0,720.1 581.2,717.1 577.3,714.0 573.4,710.9 569.3,707.8 565.2,704.7 560.9,701.5 556.5,698.2 552.1,694.9 547.5,691.6 542.8,688.2 538.0,684.7 533.1,681.2 528.0,677.7 522.9,674.0 517.6,670.4 512.2,666.6 506.6,662.9 500.9,659.0 495.1,655.1 489.2,651.1 483.1,647.0 476.9,642.9 470.6,638.7 464.1,634.4 457.5,630.0 450.7,625.6 443.9,621.0 436.9,616.4 429.7,611.7 422.4,606.9 415.0,601.9 407.4,596.9 399.8,591.7 391.9,586.5 384.0,581.1 375.9,575.5 367.7,569.9 359.3,564.1 350.8,558.1 342.2,552.0 333.5,545.7 324.6,539.2 315.5,532.6 306.4,525.8 297.1,518.7 287.6,511.4 278.1,503.9 268.3,496.1 258.4,488.1 248.3,479.7 238.1,471.1 227.7,462.1 217.2,452.7 206.4,443.0 195.6,432.8 184.5,422.1 173.3,410.9 173.3,409.9 184.5,421.1 195.6,431.8 206.4,442.0 217.2,451.7 227.7,461.1 238.1,470.1 248.3,478.7 258.4,487.1 268.3,495.1 278.1,502.9 287.6,510.4 297.1,517.7 306.4,524.8 315.5,531.6 324.6,538.2 333.5,544.7 342.2,551.0 350.8,557.1 359.3,563.1 367.7,568.9 375.9,574.5 384.0,580.1 391.9,585.5 399.8,590.7 407.4,595.9 415.0,600.9 422.4,605.9 429.7,610.7 436.9,615.4 443.9,620.0 450.7,624.6 457.5,629.0 464.1,633.4 470.6,637.7 476.9,641.9 483.1,646.0 489.2,650.1 495.1,654.1 500.9,658.0 506.6,661.9 512.2,665.6 517.6,669.4 522.9,673.0 528.0,676.7 533.1,680.2 538.0,683.7 542.8,687.2 547.5,690.6 552.1,693.9 556.5,697.2 560.9,700.5 565.2,703.7 569.3,706.8 573.4,709.9 577.3,713.0 581.2,716.1 585.0,719.1 588.6,722.0 592.2,724.9 595.7,727.8 599.1,730.7 602.4,733.5 605.6,736.3 608.8,739.0 611.9,741.7 614.9,744.4 617.8,747.1 620.7,749.7 623.5,752.3 626.2,754.8 628.9,757.4 631.5,759.9 634.1,762.4 636.5,764.8 639.0,767.2ZM172.8,410.4 161.3,398.7 149.7,386.3 150.7,386.3 162.3,398.7 173.8,410.4ZM740.1,801.4 738.8,799.3 737.6,797.1 736.3,795.0 734.9,792.9 733.6,790.7 732.2,788.5 730.8,786.3 729.3,784.0 727.8,781.8 726.3,779.5 724.8,777.2 723.2,774.9 721.5,772.5 719.9,770.1 718.2,767.7 716.4,765.3 714.6,762.9 712.8,760.4 710.9,757.9 709.0,755.3 707.0,752.8 705.0,750.2 702.9,747.6 700.8,744.9 698.6,742.2 696.4,739.5 694.0,736.8 691.7,734.0 689.2,731.2 686.7,728.3 684.1,725.4 681.4,722.5 678.7,719.6 675.9,716.6 673.0,713.5 670.0,710.4 666.9,707.3 667.9,707.3 671.0,710.4 674.0,713.5 676.9,716.6 679.7,719.6 682.4,722.5 685.1,725.4 687.7,728.3 690.2,731.2 692.7,734.0 695.0,736.8 697.4,739.5 699.6,742.2 701.8,744.9 703.9,747.6 706.0,750.2 708.0,752.8 710.0,755.3 711.9,757.9 713.8,760.4 715.6,762.9 717.4,765.3 719.2,767.7 720.9,770.1 722.5,772.5 724.2,774.9 725.8,777.2 727.3,779.5 728.8,781.8 730.3,784.0 731.8,786.3 733.2,788.5 734.6,790.7 735.9,792.9 737.3,795.0 738.6,797.1 739.8,799.3 741.1,801.4ZM667.4,707.8 664.2,704.7 660.9,701.5 657.5,698.2 654.1,694.9 650.5,691.6 646.8,688.2 642.9,684.7 639.0,681.2 634.9,677.7 630.7,674.0 626.4,670.4 621.9,666.6 617.3,662.9 612.5,659.0 607.5,655.1 602.4,651.1 597.1,647.0 591.7,642.9 586.1,638.7 580.3,634.4 574.3,630.0 568.1,625.6 561.7,621.0 555.2,616.4 548.4,611.7 541.4,606.9 534.3,601.9 526.9,596.9 519.3,591.7 511.5,586.5 503.5,581.1 495.3,575.5 486.9,569.9 478.3,564.1 469.5,558.1 460.4,552.0 451.2,545.7 441.7,539.2 432.1,532.6 422.2,525.8 412.2,518.7 401.9,511.4 391.5,503.9 380.8,496.1 369.9,488.1 358.8,479.7 347.4,471.1 335.9,462.1 324.2,452.7 312.2,443.0 300.0,432.8 287.6,422.1 274.9,410.9 262.0,399.2 248.9,386.8 235.5,373.6 235.5,372.6 248.9,385.8 262.0,398.2 274.9,409.9 287.6,421.1 300.0,431.8 312.2,442.0 324.2,451.7 335.9,461.1 347.4,470.1 358.8,478.7 369.9,487.1 380.8,495.1 391.5,502.9 401.9,510.4 412.2,517.7 422.2,524.8 432.1,531.6 441.7,538.2 451.2,544.7 460.4,551.0 469.5,557.1 478.3,563.1 486.9,568.9 495.3,574.5 503.5,580.1 511.5,585.5 519.3,590.7 526.9,595.9 534.3,600.9 541.4,605.9 548.4,610.7 555.2,615.4 561.7,620.0 568.1,624.6 574.3,629.0 580.3,633.4 586.1,637.7 591.7,641.9 597.1,646.0 602.4,650.1 607.5,654.1 612.5,658.0 617.3,661.9 621.9,665.6 626.4,669.4 630.7,673.0 634.9,676.7 639.0,680.2 642.9,683.7 646.8,687.2 650.5,690.6 654.1,693.9 657.5,697.2 660.9,700.5 664.2,703.7 667.4,706.8ZM235.0,373.1 221.3,359.2 207.4,344.4 193.1,328.6 178.6,311.6 163.8,293.3 148.8,273.3 149.8,273.3 164.8,293.3 179.6,311.6 194.1,328.6 208.4,344.4 222.3,359.2 236.0,373.1ZM795.6,801.4 794.7,799.3 793.8,797.1 792.9,795.0 792.0,792.9 791.0,790.7 790.0,788.5 789.0,786.3 788.0,784.0 787.0,781.8 785.9,779.5 784.8,777.2 783.7,774.9 782.5,772.5 781.4,770.1 780.2,767.7 778.9,765.3 777.7,762.9 776.4,760.4 775.0,757.9 773.7,755.3 772.3,752.8 770.9,750.2 769.4,747.6 767.9,744.9 766.3,742.2 764.7,739.5 763.1,736.8 761.4,734.0 759.7,731.2 757.9,728.3 756.0,725.4 754.2,722.5 752.2,719.6 750.2,716.6 748.1,713.5 745.9,710.4 743.7,707.3 741.4,704.2 739.1,701.0 736.6,697.7 734.1,694.4 731.5,691.1 728.8,687.7 726.0,684.2 723.1,680.7 720.1,677.2 717.0,673.5 713.7,669.9 710.4,666.1 706.9,662.4 703.2,658.5 699.5,654.6 695.5,650.6 696.5,650.6 700.5,654.6 704.2,658.5 707.9,662.4 711.4,666.1 714.7,669.9 718.0,673.5 721.1,677.2 724.1,680.7 727.0,684.2 729.8,687.7 732.5,691.1 735.1,694.4 737.6,697.7 740.1,701.0 742.4,704.2 744.7,707.3 746.9,710.4 749.1,713.5 751.2,716.6 753.2,719.6 755.2,722.5 757.0,725.4 758.9,728.3 760.7,731.2 762.4,734.0 764.1,736.8 765.7,739.5 767.3,742.2 768.9,744.9 770.4,747.6 771.9,750.2 773.3,752.8 774.7,755.3 776.0,757.9 777.4,760.4 778.7,762.9 779.9,765.3 781.2,767.7 782.4,770.1 783.5,772.5 784.7,774.9 785.8,777.2 786.9,779.5 788.0,781.8 789.0,784.0 790.0,786.3 791.0,788.5 792.0,790.7 793.0,792.9 793.9,795.0 794.8,797.1 795.7,799.3 796.6,801.4ZM696.0,651.1 691.9,647.0 687.7,642.9 683.3,638.7 678.6,634.4 673.8,630.0 668.8,625.6 663.6,621.0 658.2,616.4 652.5,611.7 646.6,606.9 640.4,601.9 634.0,596.9 627.4,591.7 620.4,586.5 613.2,581.1 605.7,575.5 597.9,569.9 589.8,564.1 581.3,558.1 572.6,552.0 563.6,545.7 554.2,539.2 544.6,532.6 534.6,525.8 524.3,518.7 513.7,511.4 502.8,503.9 491.5,496.1 479.9,488.1 468.0,479.7 455.9,471.1 443.4,462.1 430.6,452.7 417.5,443.0 404.1,432.8 390.4,422.1 376.4,410.9 362.1,399.2 347.5,386.8 332.5,373.6 317.2,359.7 301.5,344.9 285.4,329.1 285.4,328.1 301.5,343.9 317.2,358.7 332.5,372.6 347.5,385.8 362.1,398.2 376.4,409.9 390.4,421.1 404.1,431.8 417.5,442.0 430.6,451.7 443.4,461.1 455.9,470.1 468.0,478.7 479.9,487.1 491.5,495.1 502.8,502.9 513.7,510.4 524.3,517.7 534.6,524.8 544.6,531.6 554.2,538.2 563.6,544.7 572.6,551.0 581.3,557.1 589.8,563.1 597.9,568.9 605.7,574.5 613.2,580.1 620.4,585.5 627.4,590.7 634.0,595.9 640.4,600.9 646.6,605.9 652.5,610.7 658.2,615.4 663.6,620.0 668.8,624.6 673.8,629.0 678.6,633.4 683.3,637.7 687.7,641.9 691.9,646.0 696.0,650.1ZM284.9,328.6 268.5,311.6 251.7,293.3 234.4,273.3 216.8,251.5 198.8,227.3 180.4,200.3 161.8,169.7 143.1,134.3 144.1,134.3 162.8,169.7 181.4,200.3 199.8,227.3 217.8,251.5 235.4,273.3 252.7,293.3 269.5,311.6 285.9,328.6ZM840.3,801.4 839.7,799.3 839.1,797.1 838.4,795.0 837.7,792.9 837.1,790.7 836.4,788.5 835.7,786.3 834.9,784.0 834.2,781.8 833.5,779.5 832.7,777.2 831.9,774.9 831.1,772.5 830.3,770.1 829.4,767.7 828.6,765.3 827.7,762.9 826.8,760.4 825.9,757.9 824.9,755.3 823.9,752.8 822.9,750.2 821.9,747.6 820.8,744.9 819.8,742.2 818.6,739.5 817.5,736.8 816.3,734.0 815.1,731.2 813.9,728.3 812.6,725.4 811.2,722.5 809.9,719.6 808.5,716.6 807.0,713.5 805.5,710.4 803.9,707.3 802.3,704.2 800.7,701.0 798.9,697.7 797.2,694.4 795.3,691.1 793.4,687.7 791.5,684.2 789.4,680.7 787.3,677.2 785.1,673.5 782.8,669.9 780.4,666.1 777.9,662.4 775.3,658.5 772.6,654.6 769.8,650.6 766.8,646.5 763.7,642.4 760.5,638.2 757.1,633.9 753.5,629.5 749.8,625.1 745.9,620.5 741.8,615.9 737.5,611.2 733.0,606.4 728.3,601.4 723.3,596.4 724.3,596.4 729.3,601.4 734.0,606.4 738.5,611.2 742.8,615.9 746.9,620.5 750.8,625.1 754.5,629.5 758.1,633.9 761.5,638.2 764.7,642.4 767.8,646.5 770.8,650.6 773.6,654.6 776.3,658.5 778.9,662.4 781.4,666.1 783.8,669.9 786.1,673.5 788.3,677.2 790.4,680.7 792.5,684.2 794.4,687.7 796.3,691.1 798.2,694.4 799.9,697.7 801.7,701.0 803.3,704.2 804.9,707.3 806.5,710.4 808.0,713.5 809.5,716.6 810.9,719.6 812.2,722.5 813.6,725.4 814.9,728.3 816.1,731.2 817.3,734.0 818.5,736.8 819.6,739.5 820.8,742.2 821.8,744.9 822.9,747.6 823.9,750.2 824.9,752.8 825.9,755.3 826.9,757.9 827.8,760.4 828.7,762.9 829.6,765.3 830.4,767.7 831.3,770.1 832.1,772.5 832.9,774.9 833.7,777.2 834.5,779.5 835.2,781.8 835.9,784.0 836.7,786.3 837.4,788.5 838.1,790.7 838.7,792.9 839.4,795.0 840.1,797.1 840.7,799.3 841.3,801.4ZM723.8,596.9 718.5,591.7 713.0,586.5 707.2,581.1 701.1,575.5 694.6,569.9 687.8,564.1 680.7,558.1 673.1,552.0 665.2,545.7 656.9,539.2 648.1,532.6 638.9,525.8 629.3,518.7 619.2,511.4 608.6,503.9 597.6,496.1 586.1,488.1 574.1,479.7 561.6,471.1 548.7,462.1 535.3,452.7 521.5,443.0 507.2,432.8 492.5,422.1 477.4,410.9 461.8,399.2 445.8,386.8 429.3,373.6 412.4,359.7 395.0,344.9 377.2,329.1 358.8,312.1 340.0,293.8 340.0,292.8 358.8,311.1 377.2,328.1 395.0,343.9 412.4,358.7 429.3,372.6 445.8,385.8 461.8,398.2 477.4,409.9 492.5,421.1 507.2,431.8 521.5,442.0 535.3,451.7 548.7,461.1 561.6,470.1 574.1,478.7 586.1,487.1 597.6,495.1 608.6,502.9 619.2,510.4 629.3,517.7 638.9,524.8 648.1,531.6 656.9,538.2 665.2,544.7 673.1,551.0 680.7,557.1 687.8,563.1 694.6,568.9 701.1,574.5 707.2,580.1 713.0,585.5 718.5,590.7 723.8,595.9ZM339.5,293.3 320.1,273.3 300.1,251.5 279.6,227.3 258.6,200.3 237.0,169.7 215.0,134.3 192.9,92.5 171.2,41.3 172.2,41.3 193.9,92.5 216.0,134.3 238.0,169.7 259.6,200.3 280.6,227.3 301.1,251.5 321.1,273.3 340.5,293.3ZM877.2,801.4 876.7,799.3 876.3,797.1 875.8,795.0 875.4,792.9 874.9,790.7 874.4,788.5 873.9,786.3 873.4,784.0 872.9,781.8 872.4,779.5 871.9,777.2 871.3,774.9 870.8,772.5 870.2,770.1 869.6,767.7 869.0,765.3 868.4,762.9 867.8,760.4 867.1,757.9 866.5,755.3 865.8,752.8 865.1,750.2 864.4,747.6 863.7,744.9 862.9,742.2 862.2,739.5 861.4,736.8 860.5,734.0 859.7,731.2 858.9,728.3 858.0,725.4 857.0,722.5 856.1,719.6 855.1,716.6 854.1,713.5 853.1,710.4 852.0,707.3 850.9,704.2 849.7,701.0 848.6,697.7 847.3,694.4 846.1,691.1 844.8,687.7 843.4,684.2 842.0,680.7 840.5,677.2 839.0,673.5 837.4,669.9 835.8,666.1 834.0,662.4 832.2,658.5 830.3,654.6 828.4,650.6 826.3,646.5 824.1,642.4 821.9,638.2 819.5,633.9 817.0,629.5 814.3,625.1 811.6,620.5 808.7,615.9 805.6,611.2 802.3,606.4 798.9,601.4 795.3,596.4 791.5,591.2 787.4,586.0 783.1,580.6 778.5,575.0 773.7,569.4 768.5,563.6 763.0,557.6 757.1,551.5 750.9,545.2 751.9,545.2 758.1,551.5 764.0,557.6 769.5,563.6 774.7,569.4 779.5,575.0 784.1,580.6 788.4,586.0 792.5,591.2 796.3,596.4 799.9,601.4 803.3,606.4 806.6,611.2 809.7,615.9 812.6,620.5 815.3,625.1 818.0,629.5 820.5,633.9 822.9,638.2 825.1,642.4 827.3,646.5 829.4,650.6 831.3,654.6 833.2,658.5 835.0,662.4 836.8,666.1 838.4,669.9 840.0,673.5 841.5,677.2 843.0,680.7 844.4,684.2 845.8,687.7 847.1,691.1 848.3,694.4 849.6,697.7 850.7,701.0 851.9,704.2 853.0,707.3 854.1,710.4 855.1,713.5 856.1,716.6 857.1,719.6 858.0,722.5 859.0,725.4 859.9,728.3 860.7,731.2 861.5,734.0 862.4,736.8 863.2,739.5 863.9,742.2 864.7,744.9 865.4,747.6 866.1,750.2 866.8,752.8 867.5,755.3 868.1,757.9 868.8,760.4 869.4,762.9 870.0,765.3 870.6,767.7 871.2,770.1 871.8,772.5 872.3,774.9 872.9,777.2 873.4,779.5 873.9,781.8 874.4,784.0 874.9,786.3 875.4,788.5 875.9,790.7 876.4,792.9 876.8,795.0 877.3,797.1 877.7,799.3 878.2,801.4ZM751.4,545.7 744.7,539.2 737.6,532.6 730.0,525.8 721.9,518.7 713.3,511.4 704.2,503.9 694.4,496.1 683.9,488.1 672.9,479.7 661.1,471.1 648.7,462.1 635.7,452.7 621.9,443.0 607.5,432.8 592.4,422.1 576.6,410.9 560.2,399.2 543.2,386.8 525.5,373.6 507.2,359.7 488.3,344.9 468.8,329.1 448.6,312.1 427.7,293.8 406.2,273.8 384.0,252.0 384.0,251.0 406.2,272.8 427.7,292.8 448.6,311.1 468.8,328.1 488.3,343.9 507.2,358.7 525.5,372.6 543.2,385.8 560.2,398.2 576.6,409.9 592.4,421.1 607.5,431.8 621.9,442.0 635.7,451.7 648.7,461.1 661.1,470.1 672.9,478.7 683.9,487.1 694.4,495.1 704.2,502.9 713.3,510.4 721.9,517.7 730.0,524.8 737.6,531.6 744.7,538.2 751.4,544.7ZM383.5,251.5 360.5,227.3 336.8,200.3 312.2,169.7 287.0,134.3 261.2,92.5 235.3,41.3 236.3,41.3 262.2,92.5 288.0,134.3 313.2,169.7 337.8,200.3 361.5,227.3 384.5,251.5ZM908.2,801.4 907.9,799.3 907.6,797.1 907.3,795.0 907.0,792.9 906.7,790.7 906.4,788.5 906.0,786.3 905.7,784.0 905.3,781.8 905.0,779.5 904.6,777.2 904.3,774.9 903.9,772.5 903.5,770.1 903.1,767.7 902.7,765.3 902.3,762.9 901.9,760.4 901.5,757.9 901.0,755.3 900.6,752.8 900.1,750.2 899.6,747.6 899.1,744.9 898.6,742.2 898.1,739.5 897.6,736.8 897.0,734.0 896.5,731.2 895.9,728.3 895.3,725.4 894.7,722.5 894.0,719.6 893.4,716.6 892.7,713.5 892.0,710.4 891.3,707.3 890.5,704.2 889.8,701.0 889.0,697.7 888.2,694.4 887.3,691.1 886.4,687.7 885.5,684.2 884.6,680.7 883.6,677.2 882.5,673.5 881.5,669.9 880.4,666.1 879.2,662.4 878.0,658.5 876.7,654.6 875.3,650.6 873.9,646.5 872.5,642.4 870.9,638.2 869.3,633.9 867.6,629.5 865.8,625.1 863.9,620.5 861.9,615.9 859.7,611.2 857.5,606.4 855.1,601.4 852.6,596.4 849.9,591.2 847.0,586.0 844.0,580.6 840.8,575.0 837.3,569.4 833.6,563.6 829.6,557.6 825.4,551.5 820.8,545.2 815.9,538.7 810.6,532.1 804.9,525.3 798.7,518.2 792.0,510.9 784.8,503.4 785.8,503.4 793.0,510.9 799.7,518.2 805.9,525.3 811.6,532.1 816.9,538.7 821.8,545.2 826.4,551.5 830.6,557.6 834.6,563.6 838.3,569.4 841.8,575.0 845.0,580.6 848.0,586.0 850.9,591.2 853.6,596.4 856.1,601.4 858.5,606.4 860.7,611.2 862.9,615.9 864.9,620.5 866.8,625.1 868.6,629.5 870.3,633.9 871.9,638.2 873.5,642.4 874.9,646.5 876.3,650.6 877.7,654.6 879.0,658.5 880.2,662.4 881.4,666.1 882.5,669.9 883.5,673.5 884.6,677.2 885.6,680.7 886.5,684.2 887.4,687.7 888.3,691.1 889.2,694.4 890.0,697.7 890.8,701.0 891.5,704.2 892.3,707.3 893.0,710.4 893.7,713.5 894.4,716.6 895.0,719.6 895.7,722.5 896.3,725.4 896.9,728.3 897.5,731.2 898.0,734.0 898.6,736.8 899.1,739.5 899.6,742.2 900.1,744.9 900.6,747.6 901.1,750.2 901.6,752.8 902.0,755.3 902.5,757.9 902.9,760.4 903.3,762.9 903.7,765.3 904.1,767.7 904.5,770.1 904.9,772.5 905.3,774.9 905.6,777.2 906.0,779.5 906.3,781.8 906.7,784.0 907.0,786.3 907.4,788.5 907.7,790.7 908.0,792.9 908.3,795.0 908.6,797.1 908.9,799.3 909.2,801.4ZM785.3,503.9 777.5,496.1 769.0,488.1 759.8,479.7 749.8,471.1 739.1,462.1 727.5,452.7 715.0,443.0 701.6,432.8 687.2,422.1 671.8,410.9 655.5,399.2 638.2,386.8 620.0,373.6 600.8,359.7 580.8,344.9 559.8,329.1 538.0,312.1 515.3,293.8 491.7,273.8 467.3,252.0 441.8,227.8 441.8,226.8 467.3,251.0 491.7,272.8 515.3,292.8 538.0,311.1 559.8,328.1 580.8,343.9 600.8,358.7 620.0,372.6 638.2,385.8 655.5,398.2 671.8,409.9 687.2,421.1 701.6,431.8 715.0,442.0 727.5,451.7 739.1,461.1 749.8,470.1 759.8,478.7 769.0,487.1 777.5,495.1 785.3,502.9ZM441.3,227.3 414.9,200.3 387.5,169.7 359.0,134.3 329.5,92.5 299.3,41.3 300.3,41.3 330.5,92.5 360.0,134.3 388.5,169.7 415.9,200.3 442.3,227.3ZM934.8,801.4 934.6,799.3 934.5,797.1 934.3,795.0 934.1,792.9 933.9,790.7 933.7,788.5 933.4,786.3 933.2,784.0 933.0,781.8 932.8,779.5 932.6,777.2 932.3,774.9 932.1,772.5 931.8,770.1 931.6,767.7 931.3,765.3 931.1,762.9 930.8,760.4 930.5,757.9 930.3,755.3 930.0,752.8 929.7,750.2 929.4,747.6 929.1,744.9 928.8,742.2 928.4,739.5 928.1,736.8 927.8,734.0 927.4,731.2 927.0,728.3 926.7,725.4 926.3,722.5 925.9,719.6 925.4,716.6 925.0,713.5 924.6,710.4 924.1,707.3 923.6,704.2 923.1,701.0 922.6,697.7 922.1,694.4 921.6,691.1 921.0,687.7 920.4,684.2 919.8,680.7 919.2,677.2 918.5,673.5 917.8,669.9 917.1,666.1 916.3,662.4 915.5,658.5 914.7,654.6 913.8,650.6 912.9,646.5 911.9,642.4 910.9,638.2 909.9,633.9 908.7,629.5 907.5,625.1 906.3,620.5 904.9,615.9 903.5,611.2 902.0,606.4 900.4,601.4 898.7,596.4 896.9,591.2 895.0,586.0 892.9,580.6 890.7,575.0 888.3,569.4 885.7,563.6 883.0,557.6 880.0,551.5 876.8,545.2 873.4,538.7 869.6,532.1 865.6,525.3 861.1,518.2 856.3,510.9 851.0,503.4 845.2,495.6 838.8,487.6 831.8,479.2 824.1,470.6 815.7,461.6 806.4,452.2 807.4,452.2 816.7,461.6 825.1,470.6 832.8,479.2 839.8,487.6 846.2,495.6 852.0,503.4 857.3,510.9 862.1,518.2 866.6,525.3 870.6,532.1 874.4,538.7 877.8,545.2 881.0,551.5 884.0,557.6 886.7,563.6 889.3,569.4 891.7,575.0 893.9,580.6 896.0,586.0 897.9,591.2 899.7,596.4 901.4,601.4 903.0,606.4 904.5,611.2 905.9,615.9 907.3,620.5 908.5,625.1 909.7,629.5 910.9,633.9 911.9,638.2 912.9,642.4 913.9,646.5 914.8,650.6 915.7,654.6 916.5,658.5 917.3,662.4 918.1,666.1 918.8,669.9 919.5,673.5 920.2,677.2 920.8,680.7 921.4,684.2 922.0,687.7 922.6,691.1 923.1,694.4 923.6,697.7 924.1,701.0 924.6,704.2 925.1,707.3 925.6,710.4 926.0,713.5 926.4,716.6 926.9,719.6 927.3,722.5 927.7,725.4 928.0,728.3 928.4,731.2 928.8,734.0 929.1,736.8 929.4,739.5 929.8,742.2 930.1,744.9 930.4,747.6 930.7,750.2 931.0,752.8 931.3,755.3 931.5,757.9 931.8,760.4 932.1,762.9 932.3,765.3 932.6,767.7 932.8,770.1 933.1,772.5 933.3,774.9 933.6,777.2 933.8,779.5 934.0,781.8 934.2,784.0 934.4,786.3 934.7,788.5 934.9,790.7 935.1,792.9 935.3,795.0 935.5,797.1 935.6,799.3 935.8,801.4ZM806.9,452.7 796.6,443.0 785.3,432.8 772.8,422.1 759.2,410.9 744.3,399.2 728.0,386.8 710.4,373.6 691.4,359.7 671.1,344.9 649.4,329.1 626.5,312.1 602.3,293.8 577.0,273.8 550.4,252.0 522.6,227.8 493.6,200.8 493.6,199.8 522.6,226.8 550.4,251.0 577.0,272.8 602.3,292.8 626.5,311.1 649.4,328.1 671.1,343.9 691.4,358.7 710.4,372.6 728.0,385.8 744.3,398.2 759.2,409.9 772.8,421.1 785.3,431.8 796.6,442.0 806.9,451.7ZM493.1,200.3 462.7,169.7 430.9,134.3 397.8,92.5 363.4,41.3 364.4,41.3 398.8,92.5 431.9,134.3 463.7,169.7 494.1,200.3ZM958.0,801.4 957.9,799.3 957.8,797.1 957.7,795.0 957.6,792.9 957.4,790.7 957.3,788.5 957.2,786.3 957.1,784.0 957.0,781.8 956.9,779.5 956.7,777.2 956.6,774.9 956.5,772.5 956.3,770.1 956.2,767.7 956.1,765.3 955.9,762.9 955.8,760.4 955.6,757.9 955.5,755.3 955.3,752.8 955.2,750.2 955.0,747.6 954.8,744.9 954.6,742.2 954.5,739.5 954.3,736.8 954.1,734.0 953.9,731.2 953.7,728.3 953.5,725.4 953.2,722.5 953.0,719.6 952.8,716.6 952.5,713.5 952.3,710.4 952.0,707.3 951.7,704.2 951.5,701.0 951.2,697.7 950.9,694.4 950.6,691.1 950.2,687.7 949.9,684.2 949.6,680.7 949.2,677.2 948.8,673.5 948.4,669.9 948.0,666.1 947.5,662.4 947.0,658.5 946.5,654.6 946.0,650.6 945.5,646.5 944.9,642.4 944.3,638.2 943.6,633.9 942.9,629.5 942.2,625.1 941.4,620.5 940.5,615.9 939.6,611.2 938.7,606.4 937.7,601.4 936.6,596.4 935.4,591.2 934.1,586.0 932.8,580.6 931.4,575.0 929.8,569.4 928.1,563.6 926.3,557.6 924.3,551.5 922.2,545.2 919.8,538.7 917.3,532.1 914.5,525.3 911.4,518.2 908.1,510.9 904.4,503.4 900.3,495.6 895.8,487.6 890.8,479.2 885.2,470.6 879.0,461.6 872.0,452.2 864.3,442.5 855.5,432.3 845.7,421.6 834.7,410.4 835.7,410.4 846.7,421.6 856.5,432.3 865.3,442.5 873.0,452.2 880.0,461.6 886.2,470.6 891.8,479.2 896.8,487.6 901.3,495.6 905.4,503.4 909.1,510.9 912.4,518.2 915.5,525.3 918.3,532.1 920.8,538.7 923.2,545.2 925.3,551.5 927.3,557.6 929.1,563.6 930.8,569.4 932.4,575.0 933.8,580.6 935.1,586.0 936.4,591.2 937.6,596.4 938.7,601.4 939.7,606.4 940.6,611.2 941.5,615.9 942.4,620.5 943.2,625.1 943.9,629.5 944.6,633.9 945.3,638.2 945.9,642.4 946.5,646.5 947.0,650.6 947.5,654.6 948.0,658.5 948.5,662.4 949.0,666.1 949.4,669.9 949.8,673.5 950.2,677.2 950.6,680.7 950.9,684.2 951.2,687.7 951.6,691.1 951.9,694.4 952.2,697.7 952.5,701.0 952.7,704.2 953.0,707.3 953.3,710.4 953.5,713.5 953.8,716.6 954.0,719.6 954.2,722.5 954.5,725.4 954.7,728.3 954.9,731.2 955.1,734.0 955.3,736.8 955.5,739.5 955.6,742.2 955.8,744.9 956.0,747.6 956.2,750.2 956.3,752.8 956.5,755.3 956.6,757.9 956.8,760.4 956.9,762.9 957.1,765.3 957.2,767.7 957.3,770.1 957.5,772.5 957.6,774.9 957.7,777.2 957.9,779.5 958.0,781.8 958.1,784.0 958.2,786.3 958.3,788.5 958.4,790.7 958.6,792.9 958.7,795.0 958.8,797.1 958.9,799.3 959.0,801.4ZM835.2,410.9 822.8,399.2 808.9,386.8 793.4,373.6 776.0,359.7 756.8,344.9 735.7,329.1 712.8,312.1 687.9,293.8 661.4,273.8 633.1,252.0 603.2,227.8 571.6,200.8 538.4,170.2 538.4,169.2 571.6,199.8 603.2,226.8 633.1,251.0 661.4,272.8 687.9,292.8 712.8,311.1 735.7,328.1 756.8,343.9 776.0,358.7 793.4,372.6 808.9,385.8 822.8,398.2 835.2,409.9ZM537.9,169.7 502.9,134.3 466.1,92.5 427.4,41.3 428.4,41.3 467.1,92.5 503.9,134.3 538.9,169.7ZM978.4,801.4 978.3,799.3 978.3,797.1 978.3,795.0 978.2,792.9 978.2,790.7 978.1,788.5 978.1,786.3 978.0,784.0 978.0,781.8 978.0,779.5 977.9,777.2 977.9,774.9 977.8,772.5 977.8,770.1 977.7,767.7 977.7,765.3 977.6,762.9 977.6,760.4 977.5,757.9 977.5,755.3 977.4,752.8 977.4,750.2 977.3,747.6 977.2,744.9 977.2,742.2 977.1,739.5 977.0,736.8 977.0,734.0 976.9,731.2 976.8,728.3 976.7,725.4 976.6,722.5 976.5,719.6 976.5,716.6 976.4,713.5 976.2,710.4 976.1,707.3 976.0,704.2 975.9,701.0 975.8,697.7 975.7,694.4 975.5,691.1 975.4,687.7 975.2,684.2 975.1,680.7 974.9,677.2 974.8,673.5 974.6,669.9 974.4,666.1 974.2,662.4 973.9,658.5 973.7,654.6 973.4,650.6 973.2,646.5 972.9,642.4 972.5,638.2 972.2,633.9 971.8,629.5 971.4,625.1 971.0,620.5 970.5,615.9 970.0,611.2 969.5,606.4 968.9,601.4 968.3,596.4 967.6,591.2 966.9,586.0 966.1,580.6 965.2,575.0 964.2,569.4 963.2,563.6 962.1,557.6 960.8,551.5 959.5,545.2 958.0,538.7 956.3,532.1 954.5,525.3 952.5,518.2 950.3,510.9 947.9,503.4 945.1,495.6 942.0,487.6 938.6,479.2 934.7,470.6 930.4,461.6 925.5,452.2 919.9,442.5 913.6,432.3 906.4,421.6 898.1,410.4 888.6,398.7 877.8,386.3 865.2,373.1 866.2,373.1 878.8,386.3 889.6,398.7 899.1,410.4 907.4,421.6 914.6,432.3 920.9,442.5 926.5,452.2 931.4,461.6 935.7,470.6 939.6,479.2 943.0,487.6 946.1,495.6 948.9,503.4 951.3,510.9 953.5,518.2 955.5,525.3 957.3,532.1 959.0,538.7 960.5,545.2 961.8,551.5 963.1,557.6 964.2,563.6 965.2,569.4 966.2,575.0 967.1,580.6 967.9,586.0 968.6,591.2 969.3,596.4 969.9,601.4 970.5,606.4 971.0,611.2 971.5,615.9 972.0,620.5 972.4,625.1 972.8,629.5 973.2,633.9 973.5,638.2 973.9,642.4 974.2,646.5 974.4,650.6 974.7,654.6 974.9,658.5 975.2,662.4 975.4,666.1 975.6,669.9 975.8,673.5 975.9,677.2 976.1,680.7 976.2,684.2 976.4,687.7 976.5,691.1 976.7,694.4 976.8,697.7 976.9,701.0 977.0,704.2 977.1,707.3 977.2,710.4 977.4,713.5 977.5,716.6 977.5,719.6 977.6,722.5 977.7,725.4 977.8,728.3 977.9,731.2 978.0,734.0 978.0,736.8 978.1,739.5 978.2,742.2 978.2,744.9 978.3,747.6 978.4,750.2 978.4,752.8 978.5,755.3 978.5,757.9 978.6,760.4 978.6,762.9 978.7,765.3 978.7,767.7 978.8,770.1 978.8,772.5 978.9,774.9 978.9,777.2 979.0,779.5 979.0,781.8 979.0,784.0 979.1,786.3 979.1,788.5 979.2,790.7 979.2,792.9 979.3,795.0 979.3,797.1 979.3,799.3 979.4,801.4ZM865.7,373.6 851.3,359.7 834.7,344.9 815.8,329.1 794.3,312.1 770.3,293.8 743.7,273.8 714.6,252.0 683.1,227.8 649.4,200.8 613.5,170.2 575.3,134.8 575.3,133.8 613.5,169.2 649.4,199.8 683.1,226.8 714.6,251.0 743.7,272.8 770.3,292.8 794.3,311.1 815.8,328.1 834.7,343.9 851.3,358.7 865.7,372.6ZM574.8,134.3 534.4,92.5 491.5,41.3 492.5,41.3 535.4,92.5 575.8,134.3ZM996.5,801.4 996.5,799.3 996.5,797.1 996.6,795.0 996.6,792.9 996.6,790.7 996.6,788.5 996.6,786.3 996.6,784.0 996.7,781.8 996.7,779.5 996.7,777.2 996.7,774.9 996.8,772.5 996.8,770.1 996.8,767.7 996.8,765.3 996.8,762.9 996.9,760.4 996.9,757.9 996.9,755.3 996.9,752.8 997.0,750.2 997.0,747.6 997.0,744.9 997.0,742.2 997.1,739.5 997.1,736.8 997.1,734.0 997.1,731.2 997.2,728.3 997.2,725.4 997.2,722.5 997.2,719.6 997.2,716.6 997.2,713.5 997.3,710.4 997.3,707.3 997.3,704.2 997.3,701.0 997.3,697.7 997.3,694.4 997.3,691.1 997.3,687.7 997.3,684.2 997.3,680.7 997.3,677.2 997.3,673.5 997.3,669.9 997.3,666.1 997.3,662.4 997.2,658.5 997.2,654.6 997.1,650.6 997.1,646.5 997.0,642.4 996.9,638.2 996.8,633.9 996.7,629.5 996.6,625.1 996.4,620.5 996.2,615.9 996.0,611.2 995.8,606.4 995.6,601.4 995.3,596.4 995.0,591.2 994.6,586.0 994.2,580.6 993.8,575.0 993.3,569.4 992.8,563.6 992.2,557.6 991.5,551.5 990.7,545.2 989.9,538.7 988.9,532.1 987.9,525.3 986.7,518.2 985.3,510.9 983.8,503.4 982.0,495.6 980.1,487.6 977.8,479.2 975.3,470.6 972.4,461.6 969.1,452.2 965.3,442.5 960.9,432.3 955.9,421.6 950.0,410.4 943.2,398.7 935.2,386.3 925.8,373.1 914.7,359.2 901.6,344.4 886.1,328.6 887.1,328.6 902.6,344.4 915.7,359.2 926.8,373.1 936.2,386.3 944.2,398.7 951.0,410.4 956.9,421.6 961.9,432.3 966.3,442.5 970.1,452.2 973.4,461.6 976.3,470.6 978.8,479.2 981.1,487.6 983.0,495.6 984.8,503.4 986.3,510.9 987.7,518.2 988.9,525.3 989.9,532.1 990.9,538.7 991.7,545.2 992.5,551.5 993.2,557.6 993.8,563.6 994.3,569.4 994.8,575.0 995.2,580.6 995.6,586.0 996.0,591.2 996.3,596.4 996.6,601.4 996.8,606.4 997.0,611.2 997.2,615.9 997.4,620.5 997.6,625.1 997.7,629.5 997.8,633.9 997.9,638.2 998.0,642.4 998.1,646.5 998.1,650.6 998.2,654.6 998.2,658.5 998.3,662.4 998.3,666.1 998.3,669.9 998.3,673.5 998.3,677.2 998.3,680.7 998.3,684.2 998.3,687.7 998.3,691.1 998.3,694.4 998.3,697.7 998.3,701.0 998.3,704.2 998.3,707.3 998.3,710.4 998.2,713.5 998.2,716.6 998.2,719.6 998.2,722.5 998.2,725.4 998.2,728.3 998.1,731.2 998.1,734.0 998.1,736.8 998.1,739.5 998.0,742.2 998.0,744.9 998.0,747.6 998.0,750.2 997.9,752.8 997.9,755.3 997.9,757.9 997.9,760.4 997.8,762.9 997.8,765.3 997.8,767.7 997.8,770.1 997.8,772.5 997.7,774.9 997.7,777.2 997.7,779.5 997.7,781.8 997.6,784.0 997.6,786.3 997.6,788.5 997.6,790.7 997.6,792.9 997.6,795.0 997.5,797.1 997.5,799.3 997.5,801.4ZM886.6,329.1 868.2,312.1 846.8,293.8 821.9,273.8 793.4,252.0 761.6,227.8 726.4,200.8 688.3,170.2 647.2,134.8 603.1,93.0 603.1,92.0 647.2,133.8 688.3,169.2 726.4,199.8 761.6,226.8 793.4,251.0 821.9,272.8 846.8,292.8 868.2,311.1 886.6,328.1ZM602.6,92.5 555.5,41.3 556.5,41.3 603.6,92.5ZM1012.8,801.4 1012.8,799.3 1012.9,797.1 1013.0,795.0 1013.0,792.9 1013.1,790.7 1013.2,788.5 1013.2,786.3 1013.3,784.0 1013.4,781.8 1013.4,779.5 1013.5,777.2 1013.6,774.9 1013.7,772.5 1013.7,770.1 1013.8,767.7 1013.9,765.3 1014.0,762.9 1014.1,760.4 1014.2,757.9 1014.3,755.3 1014.3,752.8 1014.4,750.2 1014.5,747.6 1014.6,744.9 1014.7,742.2 1014.8,739.5 1014.9,736.8 1015.0,734.0 1015.1,731.2 1015.2,728.3 1015.3,725.4 1015.4,722.5 1015.5,719.6 1015.6,716.6 1015.8,713.5 1015.9,710.4 1016.0,707.3 1016.1,704.2 1016.2,701.0 1016.3,697.7 1016.4,694.4 1016.6,691.1 1016.7,687.7 1016.8,684.2 1016.9,680.7 1017.1,677.2 1017.2,673.5 1017.3,669.9 1017.4,666.1 1017.6,662.4 1017.7,658.5 1017.8,654.6 1017.9,650.6 1018.0,646.5 1018.1,642.4 1018.2,638.2 1018.3,633.9 1018.4,629.5 1018.5,625.1 1018.5,620.5 1018.6,615.9 1018.6,611.2 1018.7,606.4 1018.7,601.4 1018.7,596.4 1018.6,591.2 1018.6,586.0 1018.5,580.6 1018.4,575.0 1018.3,569.4 1018.2,563.6 1017.9,557.6 1017.7,551.5 1017.4,545.2 1017.0,538.7 1016.6,532.1 1016.1,525.3 1015.5,518.2 1014.8,510.9 1014.0,503.4 1013.0,495.6 1011.9,487.6 1010.6,479.2 1009.0,470.6 1007.3,461.6 1005.2,452.2 1002.8,442.5 999.9,432.3 996.6,421.6 992.7,410.4 988.0,398.7 982.4,386.3 975.8,373.1 967.7,359.2 958.0,344.4 946.2,328.6 931.7,311.6 914.1,293.3 915.1,293.3 932.7,311.6 947.2,328.6 959.0,344.4 968.7,359.2 976.8,373.1 983.4,386.3 989.0,398.7 993.7,410.4 997.6,421.6 1000.9,432.3 1003.8,442.5 1006.2,452.2 1008.3,461.6 1010.0,470.6 1011.6,479.2 1012.9,487.6 1014.0,495.6 1015.0,503.4 1015.8,510.9 1016.5,518.2 1017.1,525.3 1017.6,532.1 1018.0,538.7 1018.4,545.2 1018.7,551.5 1018.9,557.6 1019.2,563.6 1019.3,569.4 1019.4,575.0 1019.5,580.6 1019.6,586.0 1019.6,591.2 1019.7,596.4 1019.7,601.4 1019.7,606.4 1019.6,611.2 1019.6,615.9 1019.5,620.5 1019.5,625.1 1019.4,629.5 1019.3,633.9 1019.2,638.2 1019.1,642.4 1019.0,646.5 1018.9,650.6 1018.8,654.6 1018.7,658.5 1018.6,662.4 1018.4,666.1 1018.3,669.9 1018.2,673.5 1018.1,677.2 1017.9,680.7 1017.8,684.2 1017.7,687.7 1017.6,691.1 1017.4,694.4 1017.3,697.7 1017.2,701.0 1017.1,704.2 1017.0,707.3 1016.9,710.4 1016.8,713.5 1016.6,716.6 1016.5,719.6 1016.4,722.5 1016.3,725.4 1016.2,728.3 1016.1,731.2 1016.0,734.0 1015.9,736.8 1015.8,739.5 1015.7,742.2 1015.6,744.9 1015.5,747.6 1015.4,750.2 1015.3,752.8 1015.3,755.3 1015.2,757.9 1015.1,760.4 1015.0,762.9 1014.9,765.3 1014.8,767.7 1014.7,770.1 1014.7,772.5 1014.6,774.9 1014.5,777.2 1014.4,779.5 1014.4,781.8 1014.3,784.0 1014.2,786.3 1014.2,788.5 1014.1,790.7 1014.0,792.9 1014.0,795.0 1013.9,797.1 1013.8,799.3 1013.8,801.4ZM914.6,293.8 893.2,273.8 867.4,252.0 837.0,227.8 801.9,200.8 762.3,170.2 718.7,134.8 671.3,93.0 620.1,41.8 620.1,40.8 671.3,92.0 718.7,133.8 762.3,169.2 801.9,199.8 837.0,226.8 867.4,251.0 893.2,272.8 914.6,292.8ZM1027.5,801.4 1027.6,799.3 1027.7,797.1 1027.8,795.0 1027.9,792.9 1028.0,790.7 1028.1,788.5 1028.2,786.3 1028.3,784.0 1028.4,781.8 1028.6,779.5 1028.7,777.2 1028.8,774.9 1028.9,772.5 1029.0,770.1 1029.2,767.7 1029.3,765.3 1029.4,762.9 1029.6,760.4 1029.7,757.9 1029.9,755.3 1030.0,752.8 1030.2,750.2 1030.3,747.6 1030.5,744.9 1030.6,742.2 1030.8,739.5 1030.9,736.8 1031.1,734.0 1031.3,731.2 1031.4,728.3 1031.6,725.4 1031.8,722.5 1032.0,719.6 1032.1,716.6 1032.3,713.5 1032.5,710.4 1032.7,707.3 1032.9,704.2 1033.1,701.0 1033.3,697.7 1033.5,694.4 1033.7,691.1 1033.9,687.7 1034.2,684.2 1034.4,680.7 1034.6,677.2 1034.9,673.5 1035.1,669.9 1035.3,666.1 1035.6,662.4 1035.8,658.5 1036.1,654.6 1036.3,650.6 1036.5,646.5 1036.8,642.4 1037.0,638.2 1037.3,633.9 1037.5,629.5 1037.8,625.1 1038.0,620.5 1038.2,615.9 1038.5,611.2 1038.7,606.4 1038.9,601.4 1039.2,596.4 1039.4,591.2 1039.6,586.0 1039.7,580.6 1039.9,575.0 1040.1,569.4 1040.2,563.6 1040.3,557.6 1040.4,551.5 1040.5,545.2 1040.5,538.7 1040.5,532.1 1040.4,525.3 1040.3,518.2 1040.1,510.9 1039.9,503.4 1039.5,495.6 1039.0,487.6 1038.4,479.2 1037.6,470.6 1036.7,461.6 1035.6,452.2 1034.2,442.5 1032.5,432.3 1030.5,421.6 1028.0,410.4 1025.0,398.7 1021.4,386.3 1016.9,373.1 1011.4,359.2 1004.6,344.4 996.1,328.6 985.5,311.6 972.0,293.3 955.0,273.3 933.4,251.5 934.4,251.5 956.0,273.3 973.0,293.3 986.5,311.6 997.1,328.6 1005.6,344.4 1012.4,359.2 1017.9,373.1 1022.4,386.3 1026.0,398.7 1029.0,410.4 1031.5,421.6 1033.5,432.3 1035.2,442.5 1036.6,452.2 1037.7,461.6 1038.6,470.6 1039.4,479.2 1040.0,487.6 1040.5,495.6 1040.9,503.4 1041.1,510.9 1041.3,518.2 1041.4,525.3 1041.5,532.1 1041.5,538.7 1041.5,545.2 1041.4,551.5 1041.3,557.6 1041.2,563.6 1041.1,569.4 1040.9,575.0 1040.7,580.6 1040.6,586.0 1040.4,591.2 1040.2,596.4 1039.9,601.4 1039.7,606.4 1039.5,611.2 1039.2,615.9 1039.0,620.5 1038.8,625.1 1038.5,629.5 1038.3,633.9 1038.0,638.2 1037.8,642.4 1037.5,646.5 1037.3,650.6 1037.1,654.6 1036.8,658.5 1036.6,662.4 1036.3,666.1 1036.1,669.9 1035.9,673.5 1035.6,677.2 1035.4,680.7 1035.2,684.2 1034.9,687.7 1034.7,691.1 1034.5,694.4 1034.3,697.7 1034.1,701.0 1033.9,704.2 1033.7,707.3 1033.5,710.4 1033.3,713.5 1033.1,716.6 1033.0,719.6 1032.8,722.5 1032.6,725.4 1032.4,728.3 1032.3,731.2 1032.1,734.0 1031.9,736.8 1031.8,739.5 1031.6,742.2 1031.5,744.9 1031.3,747.6 1031.2,750.2 1031.0,752.8 1030.9,755.3 1030.7,757.9 1030.6,760.4 1030.4,762.9 1030.3,765.3 1030.2,767.7 1030.0,770.1 1029.9,772.5 1029.8,774.9 1029.7,777.2 1029.6,779.5 1029.4,781.8 1029.3,784.0 1029.2,786.3 1029.1,788.5 1029.0,790.7 1028.9,792.9 1028.8,795.0 1028.7,797.1 1028.6,799.3 1028.5,801.4ZM933.9,252.0 907.0,227.8 874.0,200.8 834.8,170.2 789.7,134.8 739.4,93.0 684.1,41.8 684.1,40.8 739.4,92.0 789.7,133.8 834.8,169.2 874.0,199.8 907.0,226.8 933.9,251.0ZM1040.9,801.4 1041.0,799.3 1041.1,797.1 1041.3,795.0 1041.4,792.9 1041.5,790.7 1041.7,788.5 1041.8,786.3 1042.0,784.0 1042.1,781.8 1042.3,779.5 1042.4,777.2 1042.6,774.9 1042.8,772.5 1042.9,770.1 1043.1,767.7 1043.3,765.3 1043.4,762.9 1043.6,760.4 1043.8,757.9 1044.0,755.3 1044.2,752.8 1044.4,750.2 1044.6,747.6 1044.8,744.9 1045.0,742.2 1045.2,739.5 1045.4,736.8 1045.6,734.0 1045.8,731.2 1046.1,728.3 1046.3,725.4 1046.5,722.5 1046.8,719.6 1047.0,716.6 1047.3,713.5 1047.5,710.4 1047.8,707.3 1048.0,704.2 1048.3,701.0 1048.6,697.7 1048.9,694.4 1049.2,691.1 1049.5,687.7 1049.8,684.2 1050.1,680.7 1050.4,677.2 1050.7,673.5 1051.0,669.9 1051.4,666.1 1051.7,662.4 1052.1,658.5 1052.4,654.6 1052.8,650.6 1053.1,646.5 1053.5,642.4 1053.8,638.2 1054.2,633.9 1054.6,629.5 1055.0,625.1 1055.3,620.5 1055.7,615.9 1056.1,611.2 1056.5,606.4 1056.9,601.4 1057.3,596.4 1057.7,591.2 1058.1,586.0 1058.5,580.6 1058.9,575.0 1059.3,569.4 1059.6,563.6 1060.0,557.6 1060.4,551.5 1060.7,545.2 1061.0,538.7 1061.4,532.1 1061.6,525.3 1061.9,518.2 1062.1,510.9 1062.3,503.4 1062.4,495.6 1062.4,487.6 1062.3,479.2 1062.2,470.6 1061.9,461.6 1061.5,452.2 1060.9,442.5 1060.2,432.3 1059.2,421.6 1057.8,410.4 1056.2,398.7 1054.0,386.3 1051.2,373.1 1047.7,359.2 1043.2,344.4 1037.5,328.6 1030.0,311.6 1020.4,293.3 1007.7,273.3 991.0,251.5 968.9,227.3 969.9,227.3 992.0,251.5 1008.7,273.3 1021.4,293.3 1031.0,311.6 1038.5,328.6 1044.2,344.4 1048.7,359.2 1052.2,373.1 1055.0,386.3 1057.2,398.7 1058.8,410.4 1060.2,421.6 1061.2,432.3 1061.9,442.5 1062.5,452.2 1062.9,461.6 1063.2,470.6 1063.3,479.2 1063.4,487.6 1063.4,495.6 1063.3,503.4 1063.1,510.9 1062.9,518.2 1062.6,525.3 1062.4,532.1 1062.0,538.7 1061.7,545.2 1061.4,551.5 1061.0,557.6 1060.6,563.6 1060.3,569.4 1059.9,575.0 1059.5,580.6 1059.1,586.0 1058.7,591.2 1058.3,596.4 1057.9,601.4 1057.5,606.4 1057.1,611.2 1056.7,615.9 1056.3,620.5 1056.0,625.1 1055.6,629.5 1055.2,633.9 1054.8,638.2 1054.5,642.4 1054.1,646.5 1053.8,650.6 1053.4,654.6 1053.1,658.5 1052.7,662.4 1052.4,666.1 1052.0,669.9 1051.7,673.5 1051.4,677.2 1051.1,680.7 1050.8,684.2 1050.5,687.7 1050.2,691.1 1049.9,694.4 1049.6,697.7 1049.3,701.0 1049.0,704.2 1048.8,707.3 1048.5,710.4 1048.3,713.5 1048.0,716.6 1047.8,719.6 1047.5,722.5 1047.3,725.4 1047.1,728.3 1046.8,731.2 1046.6,734.0 1046.4,736.8 1046.2,739.5 1046.0,742.2 1045.8,744.9 1045.6,747.6 1045.4,750.2 1045.2,752.8 1045.0,755.3 1044.8,757.9 1044.6,760.4 1044.4,762.9 1044.3,765.3 1044.1,767.7 1043.9,770.1 1043.8,772.5 1043.6,774.9 1043.4,777.2 1043.3,779.5 1043.1,781.8 1043.0,784.0 1042.8,786.3 1042.7,788.5 1042.5,790.7 1042.4,792.9 1042.3,795.0 1042.1,797.1 1042.0,799.3 1041.9,801.4ZM969.4,227.8 940.7,200.8 904.0,170.2 859.3,134.8 807.0,93.0 748.0,41.8 748.0,40.8 807.0,92.0 859.3,133.8 904.0,169.2 940.7,199.8 969.4,226.8ZM1053.1,801.4 1053.3,799.3 1053.4,797.1 1053.6,795.0 1053.8,792.9 1053.9,790.7 1054.1,788.5 1054.3,786.3 1054.5,784.0 1054.6,781.8 1054.8,779.5 1055.0,777.2 1055.2,774.9 1055.4,772.5 1055.6,770.1 1055.8,767.7 1056.0,765.3 1056.2,762.9 1056.4,760.4 1056.7,757.9 1056.9,755.3 1057.1,752.8 1057.3,750.2 1057.6,747.6 1057.8,744.9 1058.1,742.2 1058.3,739.5 1058.6,736.8 1058.8,734.0 1059.1,731.2 1059.4,728.3 1059.7,725.4 1059.9,722.5 1060.2,719.6 1060.5,716.6 1060.8,713.5 1061.1,710.4 1061.4,707.3 1061.8,704.2 1062.1,701.0 1062.4,697.7 1062.8,694.4 1063.1,691.1 1063.5,687.7 1063.9,684.2 1064.3,680.7 1064.6,677.2 1065.0,673.5 1065.4,669.9 1065.9,666.1 1066.3,662.4 1066.7,658.5 1067.1,654.6 1067.6,650.6 1068.0,646.5 1068.5,642.4 1069.0,638.2 1069.4,633.9 1069.9,629.5 1070.4,625.1 1070.9,620.5 1071.4,615.9 1071.9,611.2 1072.5,606.4 1073.0,601.4 1073.5,596.4 1074.1,591.2 1074.6,586.0 1075.2,580.6 1075.8,575.0 1076.3,569.4 1076.9,563.6 1077.5,557.6 1078.1,551.5 1078.6,545.2 1079.2,538.7 1079.8,532.1 1080.4,525.3 1080.9,518.2 1081.5,510.9 1082.0,503.4 1082.4,495.6 1082.9,487.6 1083.2,479.2 1083.6,470.6 1083.8,461.6 1084.0,452.2 1084.1,442.5 1084.0,432.3 1083.8,421.6 1083.4,410.4 1082.7,398.7 1081.7,386.3 1080.3,373.1 1078.3,359.2 1075.6,344.4 1072.0,328.6 1067.2,311.6 1060.6,293.3 1051.7,273.3 1039.5,251.5 1022.7,227.3 999.4,200.3 1000.4,200.3 1023.7,227.3 1040.5,251.5 1052.7,273.3 1061.6,293.3 1068.2,311.6 1073.0,328.6 1076.6,344.4 1079.3,359.2 1081.3,373.1 1082.7,386.3 1083.7,398.7 1084.4,410.4 1084.8,421.6 1085.0,432.3 1085.1,442.5 1085.0,452.2 1084.8,461.6 1084.6,470.6 1084.2,479.2 1083.9,487.6 1083.4,495.6 1083.0,503.4 1082.5,510.9 1081.9,518.2 1081.4,525.3 1080.8,532.1 1080.2,538.7 1079.6,545.2 1079.1,551.5 1078.5,557.6 1077.9,563.6 1077.3,569.4 1076.8,575.0 1076.2,580.6 1075.6,586.0 1075.1,591.2 1074.5,596.4 1074.0,601.4 1073.5,606.4 1072.9,611.2 1072.4,615.9 1071.9,620.5 1071.4,625.1 1070.9,629.5 1070.4,633.9 1070.0,638.2 1069.5,642.4 1069.0,646.5 1068.6,650.6 1068.1,654.6 1067.7,658.5 1067.3,662.4 1066.9,666.1 1066.4,669.9 1066.0,673.5 1065.6,677.2 1065.3,680.7 1064.9,684.2 1064.5,687.7 1064.1,691.1 1063.8,694.4 1063.4,697.7 1063.1,701.0 1062.8,704.2 1062.4,707.3 1062.1,710.4 1061.8,713.5 1061.5,716.6 1061.2,719.6 1060.9,722.5 1060.7,725.4 1060.4,728.3 1060.1,731.2 1059.8,734.0 1059.6,736.8 1059.3,739.5 1059.1,742.2 1058.8,744.9 1058.6,747.6 1058.3,750.2 1058.1,752.8 1057.9,755.3 1057.7,757.9 1057.4,760.4 1057.2,762.9 1057.0,765.3 1056.8,767.7 1056.6,770.1 1056.4,772.5 1056.2,774.9 1056.0,777.2 1055.8,779.5 1055.6,781.8 1055.5,784.0 1055.3,786.3 1055.1,788.5 1054.9,790.7 1054.8,792.9 1054.6,795.0 1054.4,797.1 1054.3,799.3 1054.1,801.4ZM999.9,200.8 968.1,170.2 926.1,134.8 873.6,93.0 811.7,41.8 811.7,40.8 873.6,92.0 926.1,133.8 968.1,169.2 999.9,199.8ZM1064.4,801.4 1064.6,799.3 1064.8,797.1 1065.0,795.0 1065.1,792.9 1065.3,790.7 1065.5,788.5 1065.7,786.3 1065.9,784.0 1066.1,781.8 1066.3,779.5 1066.6,777.2 1066.8,774.9 1067.0,772.5 1067.2,770.1 1067.5,767.7 1067.7,765.3 1067.9,762.9 1068.2,760.4 1068.4,757.9 1068.7,755.3 1069.0,752.8 1069.2,750.2 1069.5,747.6 1069.8,744.9 1070.1,742.2 1070.3,739.5 1070.6,736.8 1070.9,734.0 1071.3,731.2 1071.6,728.3 1071.9,725.4 1072.2,722.5 1072.5,719.6 1072.9,716.6 1073.2,713.5 1073.6,710.4 1073.9,707.3 1074.3,704.2 1074.7,701.0 1075.1,697.7 1075.5,694.4 1075.9,691.1 1076.3,687.7 1076.7,684.2 1077.2,680.7 1077.6,677.2 1078.1,673.5 1078.6,669.9 1079.0,666.1 1079.5,662.4 1080.0,658.5 1080.5,654.6 1081.0,650.6 1081.6,646.5 1082.1,642.4 1082.7,638.2 1083.2,633.9 1083.8,629.5 1084.4,625.1 1085.0,620.5 1085.6,615.9 1086.2,611.2 1086.9,606.4 1087.5,601.4 1088.2,596.4 1088.8,591.2 1089.8,591.2 1089.2,596.4 1088.5,601.4 1087.9,606.4 1087.2,611.2 1086.6,615.9 1086.0,620.5 1085.4,625.1 1084.8,629.5 1084.2,633.9 1083.7,638.2 1083.1,642.4 1082.6,646.5 1082.0,650.6 1081.5,654.6 1081.0,658.5 1080.5,662.4 1080.0,666.1 1079.6,669.9 1079.1,673.5 1078.6,677.2 1078.2,680.7 1077.7,684.2 1077.3,687.7 1076.9,691.1 1076.5,694.4 1076.1,697.7 1075.7,701.0 1075.3,704.2 1074.9,707.3 1074.6,710.4 1074.2,713.5 1073.9,716.6 1073.5,719.6 1073.2,722.5 1072.9,725.4 1072.6,728.3 1072.3,731.2 1071.9,734.0 1071.6,736.8 1071.3,739.5 1071.1,742.2 1070.8,744.9 1070.5,747.6 1070.2,750.2 1070.0,752.8 1069.7,755.3 1069.4,757.9 1069.2,760.4 1068.9,762.9 1068.7,765.3 1068.5,767.7 1068.2,770.1 1068.0,772.5 1067.8,774.9 1067.6,777.2 1067.3,779.5 1067.1,781.8 1066.9,784.0 1066.7,786.3 1066.5,788.5 1066.3,790.7 1066.1,792.9 1066.0,795.0 1065.8,797.1 1065.6,799.3 1065.4,801.4ZM1094.3,293.3 1088.5,273.3 1080.1,251.5 1068.0,227.3 1050.4,200.3 1024.7,169.7 1025.7,169.7 1051.4,200.3 1069.0,227.3 1081.1,251.5 1089.5,273.3 1095.3,293.3ZM1025.2,170.2 988.4,134.8 938.2,93.0 875.0,41.8 875.0,40.8 938.2,92.0 988.4,133.8 1025.2,169.2ZM1074.8,801.4 1075.0,799.3 1075.2,797.1 1075.4,795.0 1075.6,792.9 1075.9,790.7 1076.1,788.5 1076.3,786.3 1076.5,784.0 1076.8,781.8 1077.0,779.5 1077.2,777.2 1077.5,774.9 1077.7,772.5 1078.0,770.1 1078.2,767.7 1078.5,765.3 1078.8,762.9 1079.0,760.4 1079.3,757.9 1079.6,755.3 1079.9,752.8 1080.2,750.2 1080.5,747.6 1080.8,744.9 1081.1,742.2 1081.4,739.5 1081.7,736.8 1082.1,734.0 1082.4,731.2 1082.8,728.3 1083.1,725.4 1083.5,722.5 1083.8,719.6 1084.2,716.6 1084.6,713.5 1085.0,710.4 1085.4,707.3 1085.8,704.2 1086.2,701.0 1086.6,697.7 1087.1,694.4 1087.6,691.1 1088.0,687.7 1088.5,684.2 1089.5,684.2 1089.0,687.7 1088.6,691.1 1088.1,694.4 1087.6,697.7 1087.2,701.0 1086.8,704.2 1086.4,707.3 1086.0,710.4 1085.6,713.5 1085.2,716.6 1084.8,719.6 1084.5,722.5 1084.1,725.4 1083.8,728.3 1083.4,731.2 1083.1,734.0 1082.7,736.8 1082.4,739.5 1082.1,742.2 1081.8,744.9 1081.5,747.6 1081.2,750.2 1080.9,752.8 1080.6,755.3 1080.3,757.9 1080.0,760.4 1079.8,762.9 1079.5,765.3 1079.2,767.7 1079.0,770.1 1078.7,772.5 1078.5,774.9 1078.2,777.2 1078.0,779.5 1077.8,781.8 1077.5,784.0 1077.3,786.3 1077.1,788.5 1076.9,790.7 1076.6,792.9 1076.4,795.0 1076.2,797.1 1076.0,799.3 1075.8,801.4ZM1093.5,200.3 1074.0,169.7 1044.0,134.3 1045.0,134.3 1075.0,169.7 1094.5,200.3ZM1044.5,134.8 999.5,93.0 937.1,41.8 937.1,40.8 999.5,92.0 1044.5,133.8ZM1084.5,801.4 1084.7,799.3 1084.9,797.1 1085.2,795.0 1085.4,792.9 1085.6,790.7 1085.9,788.5 1086.1,786.3 1086.3,784.0 1086.6,781.8 1086.8,779.5 1087.1,777.2 1087.4,774.9 1087.6,772.5 1087.9,770.1 1088.2,767.7 1088.5,765.3 1088.8,762.9 1089.8,762.9 1089.5,765.3 1089.2,767.7 1088.9,770.1 1088.6,772.5 1088.4,774.9 1088.1,777.2 1087.8,779.5 1087.6,781.8 1087.3,784.0 1087.1,786.3 1086.9,788.5 1086.6,790.7 1086.4,792.9 1086.2,795.0 1085.9,797.1 1085.7,799.3 1085.5,801.4ZM1092.9,134.3 1055.2,92.5 1056.2,92.5 1093.9,134.3ZM1055.7,93.0 997.3,41.8 997.3,40.8 1055.7,92.0ZM1105.6,93.0 1054.2,41.8 1054.2,40.8 1105.6,92.0Z"/><path fill="#00ff00" stroke="none" d="M182.5,801.4 184.4,799.3 186.3,797.1 188.3,795.0 190.2,792.9 192.2,790.7 194.2,788.5 196.3,786.3 198.3,784.0 200.4,781.8 202.5,779.5 204.6,777.2 206.7,774.9 208.9,772.5 211.1,770.1 213.3,767.7 215.5,765.3 217.8,762.9 220.1,760.4 222.4,757.9 224.7,755.3 227.1,752.8 229.5,750.2 231.9,747.6 234.4,744.9 236.8,742.2 239.3,739.5 241.9,736.8 244.5,734.0 247.1,731.2 249.7,728.3 252.4,725.4 255.1,722.5 257.8,719.6 260.6,716.6 263.5,713.5 266.3,710.4 269.2,707.3 272.2,704.2 275.2,701.0 278.2,697.7 281.3,694.4 284.4,691.1 287.6,687.7 290.8,684.2 294.1,680.7 297.4,677.2 300.8,673.5 304.2,669.9 307.7,666.1 311.3,662.4 314.9,658.5 318.6,654.6 322.3,650.6 326.1,646.5 330.0,642.4 334.0,638.2 338.0,633.9 342.1,629.5 346.4,625.1 350.6,620.5 355.0,615.9 359.5,611.2 364.1,606.4 368.8,601.4 373.5,596.4 378.4,591.2 383.4,586.0 388.6,580.6 393.8,575.0 399.2,569.4 404.8,563.6 410.5,557.6 416.3,551.5 422.3,545.2 428.5,538.7 434.9,532.1 441.4,525.3 448.2,518.2 455.2,510.9 462.5,503.4 470.0,495.6 477.7,487.6 485.8,479.2 494.2,470.6 502.9,461.6 512.0,452.2 521.5,442.5 531.4,432.3 541.8,421.6 552.7,410.4 564.2,398.7 576.3,386.3 589.2,373.1 602.9,359.2 617.5,344.4 633.1,328.6 649.9,311.6 668.1,293.3 688.0,273.3 709.8,251.5 710.8,251.5 689.0,273.3 669.1,293.3 650.9,311.6 634.1,328.6 618.5,344.4 603.9,359.2 590.2,373.1 577.3,386.3 565.2,398.7 553.7,410.4 542.8,421.6 532.4,432.3 522.5,442.5 513.0,452.2 503.9,461.6 495.2,470.6 486.8,479.2 478.7,487.6 471.0,495.6 463.5,503.4 456.2,510.9 449.2,518.2 442.4,525.3 435.9,532.1 429.5,538.7 423.3,545.2 417.3,551.5 411.5,557.6 405.8,563.6 400.2,569.4 394.8,575.0 389.6,580.6 384.4,586.0 379.4,591.2 374.5,596.4 369.8,601.4 365.1,606.4 360.5,611.2 356.0,615.9 351.6,620.5 347.4,625.1 343.1,629.5 339.0,633.9 335.0,638.2 331.0,642.4 327.1,646.5 323.3,650.6 319.6,654.6 315.9,658.5 312.3,662.4 308.7,666.1 305.2,669.9 301.8,673.5 298.4,677.2 295.1,680.7 291.8,684.2 288.6,687.7 285.4,691.1 282.3,694.4 279.2,697.7 276.2,701.0 273.2,704.2 270.2,707.3 267.3,710.4 264.5,713.5 261.6,716.6 258.8,719.6 256.1,722.5 253.4,725.4 250.7,728.3 248.1,731.2 245.5,734.0 242.9,736.8 240.3,739.5 237.8,742.2 235.4,744.9 232.9,747.6 230.5,750.2 228.1,752.8 225.7,755.3 223.4,757.9 221.1,760.4 218.8,762.9 216.5,765.3 214.3,767.7 212.1,770.1 209.9,772.5 207.7,774.9 205.6,777.2 203.5,779.5 201.4,781.8 199.3,784.0 197.3,786.3 195.2,788.5 193.2,790.7 191.2,792.9 189.3,795.0 187.3,797.1 185.4,799.3 183.5,801.4ZM710.3,251.0 734.4,226.8 761.6,199.8 792.4,169.2 828.2,133.8 870.6,92.0 922.9,40.8 922.9,41.8 870.6,93.0 828.2,134.8 792.4,170.2 761.6,200.8 734.4,227.8 710.3,252.0ZM330.5,801.4 332.3,799.3 334.1,797.1 335.9,795.0 337.7,792.9 339.6,790.7 341.4,788.5 343.3,786.3 345.3,784.0 347.2,781.8 349.1,779.5 351.1,777.2 353.1,774.9 355.1,772.5 357.2,770.1 359.2,767.7 361.3,765.3 363.4,762.9 365.5,760.4 367.7,757.9 369.9,755.3 372.1,752.8 374.3,750.2 376.6,747.6 378.9,744.9 381.2,742.2 383.5,739.5 385.9,736.8 388.3,734.0 390.8,731.2 393.2,728.3 395.7,725.4 398.3,722.5 400.8,719.6 403.4,716.6 406.1,713.5 408.8,710.4 411.5,707.3 414.2,704.2 417.0,701.0 419.9,697.7 422.8,694.4 425.7,691.1 428.7,687.7 431.7,684.2 434.7,680.7 437.9,677.2 441.0,673.5 444.3,669.9 447.5,666.1 450.9,662.4 454.3,658.5 457.7,654.6 461.2,650.6 464.8,646.5 468.5,642.4 472.2,638.2 476.0,633.9 479.9,629.5 483.8,625.1 487.9,620.5 492.0,615.9 496.2,611.2 500.5,606.4 504.9,601.4 509.4,596.4 514.0,591.2 518.7,586.0 523.6,580.6 528.5,575.0 533.6,569.4 538.8,563.6 544.2,557.6 549.7,551.5 555.4,545.2 561.2,538.7 567.2,532.1 573.4,525.3 579.8,518.2 586.4,510.9 593.3,503.4 600.4,495.6 607.7,487.6 615.4,479.2 623.3,470.6 631.5,461.6 640.1,452.2 649.1,442.5 658.5,432.3 668.4,421.6 678.8,410.4 689.7,398.7 701.2,386.3 713.4,373.1 726.4,359.2 740.3,344.4 755.2,328.6 771.2,311.6 788.6,293.3 807.5,273.3 828.3,251.5 851.4,227.3 877.3,200.3 906.8,169.7 941.0,134.3 981.8,92.5 1031.9,41.3 1032.9,41.3 982.8,92.5 942.0,134.3 907.8,169.7 878.3,200.3 852.4,227.3 829.3,251.5 808.5,273.3 789.6,293.3 772.2,311.6 756.2,328.6 741.3,344.4 727.4,359.2 714.4,373.1 702.2,386.3 690.7,398.7 679.8,410.4 669.4,421.6 659.5,432.3 650.1,442.5 641.1,452.2 632.5,461.6 624.3,470.6 616.4,479.2 608.7,487.6 601.4,495.6 594.3,503.4 587.4,510.9 580.8,518.2 574.4,525.3 568.2,532.1 562.2,538.7 556.4,545.2 550.7,551.5 545.2,557.6 539.8,563.6 534.6,569.4 529.5,575.0 524.6,580.6 519.7,586.0 515.0,591.2 510.4,596.4 505.9,601.4 501.5,606.4 497.2,611.2 493.0,615.9 488.9,620.5 484.8,625.1 480.9,629.5 477.0,633.9 473.2,638.2 469.5,642.4 465.8,646.5 462.2,650.6 458.7,654.6 455.3,658.5 451.9,662.4 448.5,666.1 445.3,669.9 442.0,673.5 438.9,677.2 435.7,680.7 432.7,684.2 429.7,687.7 426.7,691.1 423.8,694.4 420.9,697.7 418.0,701.0 415.2,704.2 412.5,707.3 409.8,710.4 407.1,713.5 404.4,716.6 401.8,719.6 399.3,722.5 396.7,725.4 394.2,728.3 391.8,731.2 389.3,734.0 386.9,736.8 384.5,739.5 382.2,742.2 379.9,744.9 377.6,747.6 375.3,750.2 373.1,752.8 370.9,755.3 368.7,757.9 366.5,760.4 364.4,762.9 362.3,765.3 360.2,767.7 358.2,770.1 356.1,772.5 354.1,774.9 352.1,777.2 350.1,779.5 348.2,781.8 346.3,784.0 344.3,786.3 342.4,788.5 340.6,790.7 338.7,792.9 336.9,795.0 335.1,797.1 333.3,799.3 331.5,801.4ZM427.1,801.4 428.7,799.3 430.5,797.1 432.2,795.0 433.9,792.9 435.7,790.7 437.5,788.5 439.3,786.3 441.1,784.0 442.9,781.8 444.8,779.5 446.6,777.2 448.5,774.9 450.5,772.5 452.4,770.1 454.3,767.7 456.3,765.3 458.3,762.9 460.4,760.4 462.4,757.9 464.5,755.3 466.6,752.8 468.7,750.2 470.9,747.6 473.0,744.9 475.2,742.2 477.5,739.5 479.7,736.8 482.0,734.0 484.3,731.2 486.7,728.3 489.1,725.4 491.5,722.5 493.9,719.6 496.4,716.6 498.9,713.5 501.5,710.4 504.1,707.3 506.7,704.2 509.4,701.0 512.1,697.7 514.8,694.4 517.6,691.1 520.5,687.7 523.3,684.2 526.3,680.7 529.2,677.2 532.3,673.5 535.3,669.9 538.5,666.1 541.7,662.4 544.9,658.5 548.2,654.6 551.6,650.6 555.0,646.5 558.5,642.4 562.0,638.2 565.7,633.9 569.4,629.5 573.1,625.1 577.0,620.5 580.9,615.9 585.0,611.2 589.1,606.4 593.3,601.4 597.6,596.4 602.0,591.2 606.5,586.0 611.2,580.6 615.9,575.0 620.8,569.4 625.8,563.6 630.9,557.6 636.2,551.5 641.7,545.2 647.3,538.7 653.0,532.1 659.0,525.3 665.1,518.2 671.5,510.9 678.1,503.4 684.9,495.6 691.9,487.6 699.3,479.2 706.9,470.6 714.8,461.6 723.1,452.2 731.8,442.5 740.8,432.3 750.3,421.6 760.3,410.4 770.8,398.7 782.0,386.3 793.7,373.1 806.3,359.2 819.7,344.4 834.0,328.6 849.5,311.6 866.3,293.3 884.6,273.3 904.7,251.5 927.0,227.3 952.1,200.3 980.8,169.7 1014.0,134.3 1053.5,92.5 1102.3,41.3 1103.3,41.3 1054.5,92.5 1015.0,134.3 981.8,169.7 953.1,200.3 928.0,227.3 905.7,251.5 885.6,273.3 867.3,293.3 850.5,311.6 835.0,328.6 820.7,344.4 807.3,359.2 794.7,373.1 783.0,386.3 771.8,398.7 761.3,410.4 751.3,421.6 741.8,432.3 732.8,442.5 724.1,452.2 715.8,461.6 707.9,470.6 700.3,479.2 692.9,487.6 685.9,495.6 679.1,503.4 672.5,510.9 666.1,518.2 660.0,525.3 654.0,532.1 648.3,538.7 642.7,545.2 637.2,551.5 631.9,557.6 626.8,563.6 621.8,569.4 616.9,575.0 612.2,580.6 607.5,586.0 603.0,591.2 598.6,596.4 594.3,601.4 590.1,606.4 586.0,611.2 581.9,615.9 578.0,620.5 574.1,625.1 570.4,629.5 566.7,633.9 563.0,638.2 559.5,642.4 556.0,646.5 552.6,650.6 549.2,654.6 545.9,658.5 542.7,662.4 539.5,666.1 536.3,669.9 533.3,673.5 530.2,677.2 527.3,680.7 524.3,684.2 521.5,687.7 518.6,691.1 515.8,694.4 513.1,697.7 510.4,701.0 507.7,704.2 505.1,707.3 502.5,710.4 499.9,713.5 497.4,716.6 494.9,719.6 492.5,722.5 490.1,725.4 487.7,728.3 485.3,731.2 483.0,734.0 480.7,736.8 478.5,739.5 476.2,742.2 474.0,744.9 471.9,747.6 469.7,750.2 467.6,752.8 465.5,755.3 463.4,757.9 461.4,760.4 459.3,762.9 457.3,765.3 455.3,767.7 453.4,770.1 451.5,772.5 449.5,774.9 447.6,777.2 445.8,779.5 443.9,781.8 442.1,784.0 440.3,786.3 438.5,788.5 436.7,790.7 434.9,792.9 433.2,795.0 431.5,797.1 429.7,799.3 428.1,801.4ZM500.7,801.4 502.3,799.3 503.9,797.1 505.6,795.0 507.2,792.9 508.9,790.7 510.6,788.5 512.4,786.3 514.1,784.0 515.9,781.8 517.6,779.5 519.4,777.2 521.2,774.9 523.1,772.5 524.9,770.1 526.8,767.7 528.7,765.3 530.6,762.9 532.6,760.4 534.5,757.9 536.5,755.3 538.5,752.8 540.6,750.2 542.7,747.6 544.7,744.9 546.9,742.2 549.0,739.5 551.2,736.8 553.4,734.0 555.6,731.2 557.9,728.3 560.1,725.4 562.5,722.5 564.8,719.6 567.2,716.6 569.6,713.5 572.1,710.4 574.6,707.3 577.1,704.2 579.6,701.0 582.2,697.7 584.9,694.4 587.6,691.1 590.3,687.7 593.1,684.2 595.9,680.7 598.7,677.2 601.7,673.5 604.6,669.9 607.6,666.1 610.7,662.4 613.8,658.5 617.0,654.6 620.2,650.6 623.5,646.5 626.9,642.4 630.3,638.2 633.8,633.9 637.4,629.5 641.0,625.1 644.8,620.5 648.6,615.9 652.4,611.2 656.4,606.4 660.5,601.4 664.6,596.4 668.9,591.2 673.3,586.0 677.7,580.6 682.3,575.0 687.0,569.4 691.9,563.6 696.8,557.6 701.9,551.5 707.2,545.2 712.6,538.7 718.2,532.1 723.9,525.3 729.9,518.2 736.0,510.9 742.4,503.4 749.0,495.6 755.8,487.6 762.9,479.2 770.3,470.6 778.0,461.6 786.0,452.2 794.4,442.5 803.2,432.3 812.4,421.6 822.1,410.4 832.3,398.7 843.1,386.3 854.6,373.1 866.7,359.2 879.7,344.4 893.7,328.6 908.7,311.6 925.1,293.3 942.9,273.3 962.5,251.5 984.3,227.3 1008.7,200.3 1036.6,169.7 1069.0,134.3 1107.7,92.5 1108.7,92.5 1070.0,134.3 1037.6,169.7 1009.7,200.3 985.3,227.3 963.5,251.5 943.9,273.3 926.1,293.3 909.7,311.6 894.7,328.6 880.7,344.4 867.7,359.2 855.6,373.1 844.1,386.3 833.3,398.7 823.1,410.4 813.4,421.6 804.2,432.3 795.4,442.5 787.0,452.2 779.0,461.6 771.3,470.6 763.9,479.2 756.8,487.6 750.0,495.6 743.4,503.4 737.0,510.9 730.9,518.2 724.9,525.3 719.2,532.1 713.6,538.7 708.2,545.2 702.9,551.5 697.8,557.6 692.9,563.6 688.0,569.4 683.3,575.0 678.7,580.6 674.3,586.0 669.9,591.2 665.6,596.4 661.5,601.4 657.4,606.4 653.4,611.2 649.6,615.9 645.8,620.5 642.0,625.1 638.4,629.5 634.8,633.9 631.3,638.2 627.9,642.4 624.5,646.5 621.2,650.6 618.0,654.6 614.8,658.5 611.7,662.4 608.6,666.1 605.6,669.9 602.7,673.5 599.7,677.2 596.9,680.7 594.1,684.2 591.3,687.7 588.6,691.1 585.9,694.4 583.2,697.7 580.6,701.0 578.1,704.2 575.6,707.3 573.1,710.4 570.6,713.5 568.2,716.6 565.8,719.6 563.5,722.5 561.1,725.4 558.9,728.3 556.6,731.2 554.4,734.0 552.2,736.8 550.0,739.5 547.9,742.2 545.7,744.9 543.7,747.6 541.6,750.2 539.5,752.8 537.5,755.3 535.5,757.9 533.6,760.4 531.6,762.9 529.7,765.3 527.8,767.7 525.9,770.1 524.1,772.5 522.2,774.9 520.4,777.2 518.6,779.5 516.9,781.8 515.1,784.0 513.4,786.3 511.6,788.5 509.9,790.7 508.2,792.9 506.6,795.0 504.9,797.1 503.3,799.3 501.7,801.4ZM560.9,801.4 562.5,799.3 564.1,797.1 565.7,795.0 567.3,792.9 568.9,790.7 570.5,788.5 572.2,786.3 573.9,784.0 575.6,781.8 577.3,779.5 579.0,777.2 580.8,774.9 582.5,772.5 584.3,770.1 586.1,767.7 587.9,765.3 589.8,762.9 591.7,760.4 593.6,757.9 595.5,755.3 597.4,752.8 599.4,750.2 601.4,747.6 603.4,744.9 605.4,742.2 607.5,739.5 609.6,736.8 611.7,734.0 613.9,731.2 616.1,728.3 618.3,725.4 620.5,722.5 622.8,719.6 625.1,716.6 627.4,713.5 629.8,710.4 632.2,707.3 634.6,704.2 637.1,701.0 639.6,697.7 642.2,694.4 644.8,691.1 647.4,687.7 650.1,684.2 652.8,680.7 655.6,677.2 658.4,673.5 661.2,669.9 664.2,666.1 667.1,662.4 670.1,658.5 673.2,654.6 676.4,650.6 679.6,646.5 682.8,642.4 686.1,638.2 689.5,633.9 693.0,629.5 696.5,625.1 700.1,620.5 703.8,615.9 707.5,611.2 711.4,606.4 715.3,601.4 719.4,596.4 723.5,591.2 727.7,586.0 732.1,580.6 736.5,575.0 741.1,569.4 745.8,563.6 750.6,557.6 755.5,551.5 760.7,545.2 765.9,538.7 771.3,532.1 776.9,525.3 782.7,518.2 788.7,510.9 794.9,503.4 801.3,495.6 807.9,487.6 814.8,479.2 822.0,470.6 829.5,461.6 837.3,452.2 845.5,442.5 854.0,432.3 863.0,421.6 872.4,410.4 882.4,398.7 892.9,386.3 904.1,373.1 916.0,359.2 928.7,344.4 942.3,328.6 957.0,311.6 972.9,293.3 990.3,273.3 1009.5,251.5 1030.8,227.3 1054.7,200.3 1082.0,169.7 1113.8,134.3 1114.8,134.3 1083.0,169.7 1055.7,200.3 1031.8,227.3 1010.5,251.5 991.3,273.3 973.9,293.3 958.0,311.6 943.3,328.6 929.7,344.4 917.0,359.2 905.1,373.1 893.9,386.3 883.4,398.7 873.4,410.4 864.0,421.6 855.0,432.3 846.5,442.5 838.3,452.2 830.5,461.6 823.0,470.6 815.8,479.2 808.9,487.6 802.3,495.6 795.9,503.4 789.7,510.9 783.7,518.2 777.9,525.3 772.3,532.1 766.9,538.7 761.7,545.2 756.5,551.5 751.6,557.6 746.8,563.6 742.1,569.4 737.5,575.0 733.1,580.6 728.7,586.0 724.5,591.2 720.4,596.4 716.3,601.4 712.4,606.4 708.5,611.2 704.8,615.9 701.1,620.5 697.5,625.1 694.0,629.5 690.5,633.9 687.1,638.2 683.8,642.4 680.6,646.5 677.4,650.6 674.2,654.6 671.1,658.5 668.1,662.4 665.2,666.1 662.2,669.9 659.4,673.5 656.6,677.2 653.8,680.7 651.1,684.2 648.4,687.7 645.8,691.1 643.2,694.4 640.6,697.7 638.1,701.0 635.6,704.2 633.2,707.3 630.8,710.4 628.4,713.5 626.1,716.6 623.8,719.6 621.5,722.5 619.3,725.4 617.1,728.3 614.9,731.2 612.7,734.0 610.6,736.8 608.5,739.5 606.4,742.2 604.4,744.9 602.4,747.6 600.4,750.2 598.4,752.8 596.5,755.3 594.6,757.9 592.7,760.4 590.8,762.9 588.9,765.3 587.1,767.7 585.3,770.1 583.5,772.5 581.8,774.9 580.0,777.2 578.3,779.5 576.6,781.8 574.9,784.0 573.2,786.3 571.5,788.5 569.9,790.7 568.3,792.9 566.7,795.0 565.1,797.1 563.5,799.3 561.9,801.4ZM612.4,801.4 613.9,799.3 615.4,797.1 616.9,795.0 618.5,792.9 620.0,790.7 621.6,788.5 623.2,786.3 624.8,784.0 626.5,781.8 628.1,779.5 629.8,777.2 631.5,774.9 633.2,772.5 634.9,770.1 636.7,767.7 638.5,765.3 640.3,762.9 642.1,760.4 643.9,757.9 645.8,755.3 647.6,752.8 649.5,750.2 651.5,747.6 653.4,744.9 655.4,742.2 657.4,739.5 659.4,736.8 661.5,734.0 663.6,731.2 665.7,728.3 667.8,725.4 670.0,722.5 672.2,719.6 674.4,716.6 676.7,713.5 679.0,710.4 681.3,707.3 683.7,704.2 686.1,701.0 688.5,697.7 691.0,694.4 693.5,691.1 696.1,687.7 698.6,684.2 701.3,680.7 704.0,677.2 706.7,673.5 709.5,669.9 712.3,666.1 715.2,662.4 718.1,658.5 721.1,654.6 724.2,650.6 727.3,646.5 730.4,642.4 733.6,638.2 736.9,633.9 740.3,629.5 743.7,625.1 747.2,620.5 750.8,615.9 754.5,611.2 758.2,606.4 762.0,601.4 766.0,596.4 770.0,591.2 774.1,586.0 778.3,580.6 782.6,575.0 787.1,569.4 791.7,563.6 796.3,557.6 801.2,551.5 806.1,545.2 811.3,538.7 816.6,532.1 822.0,525.3 827.6,518.2 833.5,510.9 839.5,503.4 845.7,495.6 852.2,487.6 859.0,479.2 866.0,470.6 873.3,461.6 880.9,452.2 888.9,442.5 897.2,432.3 906.0,421.6 915.2,410.4 924.9,398.7 935.2,386.3 946.2,373.1 957.8,359.2 970.2,344.4 983.5,328.6 997.9,311.6 1013.5,293.3 1030.6,273.3 1049.4,251.5 1070.2,227.3 1093.7,200.3 1094.7,200.3 1071.2,227.3 1050.4,251.5 1031.6,273.3 1014.5,293.3 998.9,311.6 984.5,328.6 971.2,344.4 958.8,359.2 947.2,373.1 936.2,386.3 925.9,398.7 916.2,410.4 907.0,421.6 898.2,432.3 889.9,442.5 881.9,452.2 874.3,461.6 867.0,470.6 860.0,479.2 853.2,487.6 846.7,495.6 840.5,503.4 834.5,510.9 828.6,518.2 823.0,525.3 817.6,532.1 812.3,538.7 807.1,545.2 802.2,551.5 797.3,557.6 792.7,563.6 788.1,569.4 783.6,575.0 779.3,580.6 775.1,586.0 771.0,591.2 767.0,596.4 763.0,601.4 759.2,606.4 755.5,611.2 751.8,615.9 748.2,620.5 744.7,625.1 741.3,629.5 737.9,633.9 734.6,638.2 731.4,642.4 728.3,646.5 725.2,650.6 722.1,654.6 719.1,658.5 716.2,662.4 713.3,666.1 710.5,669.9 707.7,673.5 705.0,677.2 702.3,680.7 699.6,684.2 697.1,687.7 694.5,691.1 692.0,694.4 689.5,697.7 687.1,701.0 684.7,704.2 682.3,707.3 680.0,710.4 677.7,713.5 675.4,716.6 673.2,719.6 671.0,722.5 668.8,725.4 666.7,728.3 664.6,731.2 662.5,734.0 660.4,736.8 658.4,739.5 656.4,742.2 654.4,744.9 652.5,747.6 650.5,750.2 648.6,752.8 646.8,755.3 644.9,757.9 643.1,760.4 641.3,762.9 639.5,765.3 637.7,767.7 635.9,770.1 634.2,772.5 632.5,774.9 630.8,777.2 629.1,779.5 627.5,781.8 625.8,784.0 624.2,786.3 622.6,788.5 621.0,790.7 619.5,792.9 617.9,795.0 616.4,797.1 614.9,799.3 613.4,801.4ZM657.4,801.4 658.9,799.3 660.4,797.1 661.8,795.0 663.3,792.9 664.9,790.7 666.4,788.5 668.0,786.3 669.5,784.0 671.1,781.8 672.7,779.5 674.3,777.2 676.0,774.9 677.6,772.5 679.3,770.1 681.0,767.7 682.7,765.3 684.5,762.9 686.2,760.4 688.0,757.9 689.8,755.3 691.6,752.8 693.5,750.2 695.3,747.6 697.2,744.9 699.2,742.2 701.1,739.5 703.1,736.8 705.1,734.0 707.1,731.2 709.1,728.3 711.2,725.4 713.3,722.5 715.4,719.6 717.6,716.6 719.8,713.5 722.0,710.4 724.3,707.3 726.6,704.2 728.9,701.0 731.3,697.7 733.7,694.4 736.2,691.1 738.6,687.7 741.2,684.2 743.7,680.7 746.4,677.2 749.0,673.5 751.7,669.9 754.5,666.1 757.3,662.4 760.1,658.5 763.0,654.6 766.0,650.6 769.0,646.5 772.1,642.4 775.2,638.2 778.4,633.9 781.7,629.5 785.1,625.1 788.5,620.5 792.0,615.9 795.5,611.2 799.2,606.4 802.9,601.4 806.7,596.4 810.6,591.2 814.7,586.0 818.8,580.6 823.0,575.0 827.3,569.4 831.8,563.6 836.4,557.6 841.1,551.5 845.9,545.2 850.9,538.7 856.1,532.1 861.4,525.3 866.9,518.2 872.6,510.9 878.5,503.4 884.6,495.6 891.0,487.6 897.5,479.2 904.4,470.6 911.5,461.6 919.0,452.2 926.8,442.5 935.0,432.3 943.6,421.6 952.6,410.4 962.1,398.7 972.2,386.3 982.9,373.1 994.3,359.2 1006.5,344.4 1019.5,328.6 1033.7,311.6 1049.0,293.3 1065.7,273.3 1084.2,251.5 1104.7,227.3 1105.7,227.3 1085.2,251.5 1066.7,273.3 1050.0,293.3 1034.7,311.6 1020.5,328.6 1007.5,344.4 995.3,359.2 983.9,373.1 973.2,386.3 963.1,398.7 953.6,410.4 944.6,421.6 936.0,432.3 927.8,442.5 920.0,452.2 912.5,461.6 905.4,470.6 898.5,479.2 892.0,487.6 885.6,495.6 879.5,503.4 873.6,510.9 867.9,518.2 862.4,525.3 857.1,532.1 851.9,538.7 846.9,545.2 842.1,551.5 837.4,557.6 832.8,563.6 828.3,569.4 824.0,575.0 819.8,580.6 815.7,586.0 811.6,591.2 807.7,596.4 803.9,601.4 800.2,606.4 796.5,611.2 793.0,615.9 789.5,620.5 786.1,625.1 782.7,629.5 779.4,633.9 776.2,638.2 773.1,642.4 770.0,646.5 767.0,650.6 764.0,654.6 761.1,658.5 758.3,662.4 755.5,666.1 752.7,669.9 750.0,673.5 747.4,677.2 744.7,680.7 742.2,684.2 739.6,687.7 737.2,691.1 734.7,694.4 732.3,697.7 729.9,701.0 727.6,704.2 725.3,707.3 723.0,710.4 720.8,713.5 718.6,716.6 716.4,719.6 714.3,722.5 712.2,725.4 710.1,728.3 708.1,731.2 706.1,734.0 704.1,736.8 702.1,739.5 700.2,742.2 698.2,744.9 696.3,747.6 694.5,750.2 692.6,752.8 690.8,755.3 689.0,757.9 687.2,760.4 685.5,762.9 683.7,765.3 682.0,767.7 680.3,770.1 678.6,772.5 677.0,774.9 675.3,777.2 673.7,779.5 672.1,781.8 670.5,784.0 669.0,786.3 667.4,788.5 665.9,790.7 664.3,792.9 662.8,795.0 661.4,797.1 659.9,799.3 658.4,801.4ZM697.7,801.4 699.1,799.3 700.5,797.1 702.0,795.0 703.4,792.9 704.9,790.7 706.4,788.5 707.9,786.3 709.4,784.0 711.0,781.8 712.5,779.5 714.1,777.2 715.7,774.9 717.3,772.5 718.9,770.1 720.6,767.7 722.2,765.3 723.9,762.9 725.6,760.4 727.4,757.9 729.1,755.3 730.9,752.8 732.7,750.2 734.5,747.6 736.3,744.9 738.2,742.2 740.1,739.5 742.0,736.8 744.0,734.0 745.9,731.2 747.9,728.3 749.9,725.4 752.0,722.5 754.1,719.6 756.2,716.6 758.3,713.5 760.5,710.4 762.7,707.3 764.9,704.2 767.2,701.0 769.5,697.7 771.9,694.4 774.2,691.1 776.7,687.7 779.1,684.2 781.6,680.7 784.2,677.2 786.8,673.5 789.4,669.9 792.1,666.1 794.8,662.4 797.6,658.5 800.4,654.6 803.3,650.6 806.3,646.5 809.3,642.4 812.3,638.2 815.5,633.9 818.7,629.5 821.9,625.1 825.2,620.5 828.6,615.9 832.1,611.2 835.7,606.4 839.3,601.4 843.1,596.4 846.9,591.2 850.8,586.0 854.8,580.6 859.0,575.0 863.2,569.4 867.6,563.6 872.0,557.6 876.6,551.5 881.4,545.2 886.3,538.7 891.3,532.1 896.5,525.3 901.9,518.2 907.5,510.9 913.3,503.4 919.2,495.6 925.5,487.6 931.9,479.2 938.6,470.6 945.6,461.6 952.9,452.2 960.6,442.5 968.6,432.3 977.0,421.6 985.9,410.4 995.2,398.7 1005.1,386.3 1015.6,373.1 1026.8,359.2 1038.8,344.4 1051.6,328.6 1065.5,311.6 1080.5,293.3 1097.0,273.3 1098.0,273.3 1081.5,293.3 1066.5,311.6 1052.6,328.6 1039.8,344.4 1027.8,359.2 1016.6,373.1 1006.1,386.3 996.2,398.7 986.9,410.4 978.0,421.6 969.6,432.3 961.6,442.5 953.9,452.2 946.6,461.6 939.6,470.6 932.9,479.2 926.5,487.6 920.2,495.6 914.3,503.4 908.5,510.9 902.9,518.2 897.5,525.3 892.3,532.1 887.3,538.7 882.4,545.2 877.6,551.5 873.0,557.6 868.6,563.6 864.2,569.4 860.0,575.0 855.8,580.6 851.8,586.0 847.9,591.2 844.1,596.4 840.3,601.4 836.7,606.4 833.1,611.2 829.6,615.9 826.2,620.5 822.9,625.1 819.7,629.5 816.5,633.9 813.3,638.2 810.3,642.4 807.3,646.5 804.3,650.6 801.4,654.6 798.6,658.5 795.8,662.4 793.1,666.1 790.4,669.9 787.8,673.5 785.2,677.2 782.6,680.7 780.1,684.2 777.7,687.7 775.2,691.1 772.9,694.4 770.5,697.7 768.2,701.0 765.9,704.2 763.7,707.3 761.5,710.4 759.3,713.5 757.2,716.6 755.1,719.6 753.0,722.5 750.9,725.4 748.9,728.3 746.9,731.2 745.0,734.0 743.0,736.8 741.1,739.5 739.2,742.2 737.3,744.9 735.5,747.6 733.7,750.2 731.9,752.8 730.1,755.3 728.4,757.9 726.6,760.4 724.9,762.9 723.2,765.3 721.6,767.7 719.9,770.1 718.3,772.5 716.7,774.9 715.1,777.2 713.5,779.5 712.0,781.8 710.4,784.0 708.9,786.3 707.4,788.5 705.9,790.7 704.4,792.9 703.0,795.0 701.5,797.1 700.1,799.3 698.7,801.4ZM734.1,801.4 735.5,799.3 736.9,797.1 738.3,795.0 739.7,792.9 741.1,790.7 742.6,788.5 744.1,786.3 745.5,784.0 747.0,781.8 748.6,779.5 750.1,777.2 751.6,774.9 753.2,772.5 754.8,770.1 756.4,767.7 758.0,765.3 759.7,762.9 761.3,760.4 763.0,757.9 764.7,755.3 766.4,752.8 768.2,750.2 770.0,747.6 771.8,744.9 773.6,742.2 775.4,739.5 777.3,736.8 779.2,734.0 781.1,731.2 783.0,728.3 785.0,725.4 787.0,722.5 789.0,719.6 791.1,716.6 793.2,713.5 795.3,710.4 797.4,707.3 799.6,704.2 801.8,701.0 804.1,697.7 806.4,694.4 808.7,691.1 811.1,687.7 813.5,684.2 815.9,680.7 818.4,677.2 820.9,673.5 823.5,669.9 826.1,666.1 828.8,662.4 831.5,658.5 834.3,654.6 837.1,650.6 840.0,646.5 842.9,642.4 845.9,638.2 848.9,633.9 852.1,629.5 855.3,625.1 858.5,620.5 861.8,615.9 865.2,611.2 868.7,606.4 872.3,601.4 875.9,596.4 879.7,591.2 883.5,586.0 887.5,580.6 891.5,575.0 895.6,569.4 899.9,563.6 904.3,557.6 908.8,551.5 913.5,545.2 918.2,538.7 923.2,532.1 928.3,525.3 933.6,518.2 939.0,510.9 944.7,503.4 950.6,495.6 956.6,487.6 963.0,479.2 969.6,470.6 976.4,461.6 983.6,452.2 991.1,442.5 999.0,432.3 1007.2,421.6 1015.9,410.4 1025.1,398.7 1034.8,386.3 1045.1,373.1 1056.1,359.2 1067.9,344.4 1080.5,328.6 1094.2,311.6 1095.2,311.6 1081.5,328.6 1068.9,344.4 1057.1,359.2 1046.1,373.1 1035.8,386.3 1026.1,398.7 1016.9,410.4 1008.2,421.6 1000.0,432.3 992.1,442.5 984.6,452.2 977.4,461.6 970.6,470.6 964.0,479.2 957.6,487.6 951.6,495.6 945.7,503.4 940.0,510.9 934.6,518.2 929.3,525.3 924.2,532.1 919.2,538.7 914.5,545.2 909.8,551.5 905.3,557.6 900.9,563.6 896.6,569.4 892.5,575.0 888.5,580.6 884.5,586.0 880.7,591.2 876.9,596.4 873.3,601.4 869.7,606.4 866.2,611.2 862.8,615.9 859.5,620.5 856.3,625.1 853.1,629.5 849.9,633.9 846.9,638.2 843.9,642.4 841.0,646.5 838.1,650.6 835.3,654.6 832.5,658.5 829.8,662.4 827.1,666.1 824.5,669.9 821.9,673.5 819.4,677.2 816.9,680.7 814.5,684.2 812.1,687.7 809.7,691.1 807.4,694.4 805.1,697.7 802.8,701.0 800.6,704.2 798.4,707.3 796.3,710.4 794.2,713.5 792.1,716.6 790.0,719.6 788.0,722.5 786.0,725.4 784.0,728.3 782.1,731.2 780.2,734.0 778.3,736.8 776.4,739.5 774.6,742.2 772.8,744.9 771.0,747.6 769.2,750.2 767.4,752.8 765.7,755.3 764.0,757.9 762.3,760.4 760.7,762.9 759.0,765.3 757.4,767.7 755.8,770.1 754.2,772.5 752.6,774.9 751.1,777.2 749.6,779.5 748.0,781.8 746.5,784.0 745.1,786.3 743.6,788.5 742.1,790.7 740.7,792.9 739.3,795.0 737.9,797.1 736.5,799.3 735.1,801.4ZM767.5,801.4 768.8,799.3 770.2,797.1 771.6,795.0 772.9,792.9 774.3,790.7 775.7,788.5 777.2,786.3 778.6,784.0 780.1,781.8 781.6,779.5 783.0,777.2 784.6,774.9 786.1,772.5 787.6,770.1 789.2,767.7 790.8,765.3 792.4,762.9 794.0,760.4 795.6,757.9 797.3,755.3 799.0,752.8 800.7,750.2 802.4,747.6 804.2,744.9 805.9,742.2 807.7,739.5 809.5,736.8 811.4,734.0 813.3,731.2 815.2,728.3 817.1,725.4 819.0,722.5 821.0,719.6 823.0,716.6 825.1,713.5 827.1,710.4 829.2,707.3 831.3,704.2 833.5,701.0 835.7,697.7 837.9,694.4 840.2,691.1 842.5,687.7 844.9,684.2 847.3,680.7 849.7,677.2 852.2,673.5 854.7,669.9 857.2,666.1 859.8,662.4 862.5,658.5 865.2,654.6 868.0,650.6 870.8,646.5 873.7,642.4 876.6,638.2 879.6,633.9 882.6,629.5 885.7,625.1 888.9,620.5 892.2,615.9 895.5,611.2 898.9,606.4 902.4,601.4 906.0,596.4 909.7,591.2 913.4,586.0 917.3,580.6 921.2,575.0 925.3,569.4 929.5,563.6 933.8,557.6 938.2,551.5 942.8,545.2 947.5,538.7 952.3,532.1 957.3,525.3 962.5,518.2 967.8,510.9 973.4,503.4 979.2,495.6 985.1,487.6 991.3,479.2 997.8,470.6 1004.6,461.6 1011.6,452.2 1019.0,442.5 1026.7,432.3 1034.8,421.6 1043.4,410.4 1052.4,398.7 1062.0,386.3 1072.1,373.1 1082.9,359.2 1094.5,344.4 1095.5,344.4 1083.9,359.2 1073.1,373.1 1063.0,386.3 1053.4,398.7 1044.4,410.4 1035.8,421.6 1027.7,432.3 1020.0,442.5 1012.6,452.2 1005.6,461.6 998.8,470.6 992.3,479.2 986.1,487.6 980.2,495.6 974.4,503.4 968.8,510.9 963.5,518.2 958.3,525.3 953.3,532.1 948.5,538.7 943.8,545.2 939.2,551.5 934.8,557.6 930.5,563.6 926.3,569.4 922.2,575.0 918.3,580.6 914.4,586.0 910.7,591.2 907.0,596.4 903.4,601.4 899.9,606.4 896.5,611.2 893.2,615.9 889.9,620.5 886.7,625.1 883.6,629.5 880.6,633.9 877.6,638.2 874.7,642.4 871.8,646.5 869.0,650.6 866.2,654.6 863.5,658.5 860.8,662.4 858.2,666.1 855.7,669.9 853.2,673.5 850.7,677.2 848.3,680.7 845.9,684.2 843.5,687.7 841.2,691.1 838.9,694.4 836.7,697.7 834.5,701.0 832.3,704.2 830.2,707.3 828.1,710.4 826.1,713.5 824.0,716.6 822.0,719.6 820.0,722.5 818.1,725.4 816.2,728.3 814.3,731.2 812.4,734.0 810.5,736.8 808.7,739.5 806.9,742.2 805.2,744.9 803.4,747.6 801.7,750.2 800.0,752.8 798.3,755.3 796.6,757.9 795.0,760.4 793.4,762.9 791.8,765.3 790.2,767.7 788.6,770.1 787.1,772.5 785.6,774.9 784.0,777.2 782.6,779.5 781.1,781.8 779.6,784.0 778.2,786.3 776.7,788.5 775.3,790.7 773.9,792.9 772.6,795.0 771.2,797.1 769.8,799.3 768.5,801.4ZM798.3,801.4 799.6,799.3 800.9,797.1 802.3,795.0 803.6,792.9 805.0,790.7 806.3,788.5 807.7,786.3 809.1,784.0 810.6,781.8 812.0,779.5 813.5,777.2 814.9,774.9 816.4,772.5 817.9,770.1 819.5,767.7 821.0,765.3 822.6,762.9 824.2,760.4 825.8,757.9 827.4,755.3 829.0,752.8 830.7,750.2 832.4,747.6 834.1,744.9 835.8,742.2 837.6,739.5 839.3,736.8 841.1,734.0 843.0,731.2 844.8,728.3 846.7,725.4 848.6,722.5 850.5,719.6 852.5,716.6 854.5,713.5 856.5,710.4 858.5,707.3 860.6,704.2 862.7,701.0 864.9,697.7 867.1,694.4 869.3,691.1 871.6,687.7 873.9,684.2 876.2,680.7 878.6,677.2 881.0,673.5 883.4,669.9 885.9,666.1 888.5,662.4 891.1,658.5 893.7,654.6 896.5,650.6 899.2,646.5 902.0,642.4 904.9,638.2 907.8,633.9 910.8,629.5 913.9,625.1 917.0,620.5 920.2,615.9 923.4,611.2 926.8,606.4 930.2,601.4 933.7,596.4 937.3,591.2 941.0,586.0 944.8,580.6 948.6,575.0 952.6,569.4 956.7,563.6 961.0,557.6 965.3,551.5 969.8,545.2 974.4,538.7 979.1,532.1 984.1,525.3 989.1,518.2 994.4,510.9 999.9,503.4 1005.5,495.6 1011.4,487.6 1017.5,479.2 1023.8,470.6 1030.5,461.6 1037.4,452.2 1044.7,442.5 1052.3,432.3 1060.3,421.6 1068.7,410.4 1077.6,398.7 1087.0,386.3 1097.0,373.1 1098.0,373.1 1088.0,386.3 1078.6,398.7 1069.7,410.4 1061.3,421.6 1053.3,432.3 1045.7,442.5 1038.4,452.2 1031.5,461.6 1024.8,470.6 1018.5,479.2 1012.4,487.6 1006.5,495.6 1000.9,503.4 995.4,510.9 990.1,518.2 985.1,525.3 980.1,532.1 975.4,538.7 970.8,545.2 966.3,551.5 962.0,557.6 957.7,563.6 953.6,569.4 949.6,575.0 945.8,580.6 942.0,586.0 938.3,591.2 934.7,596.4 931.2,601.4 927.8,606.4 924.4,611.2 921.2,615.9 918.0,620.5 914.9,625.1 911.8,629.5 908.8,633.9 905.9,638.2 903.0,642.4 900.2,646.5 897.5,650.6 894.7,654.6 892.1,658.5 889.5,662.4 886.9,666.1 884.4,669.9 882.0,673.5 879.6,677.2 877.2,680.7 874.9,684.2 872.6,687.7 870.3,691.1 868.1,694.4 865.9,697.7 863.7,701.0 861.6,704.2 859.5,707.3 857.5,710.4 855.5,713.5 853.5,716.6 851.5,719.6 849.6,722.5 847.7,725.4 845.8,728.3 844.0,731.2 842.1,734.0 840.3,736.8 838.6,739.5 836.8,742.2 835.1,744.9 833.4,747.6 831.7,750.2 830.0,752.8 828.4,755.3 826.8,757.9 825.2,760.4 823.6,762.9 822.0,765.3 820.5,767.7 818.9,770.1 817.4,772.5 815.9,774.9 814.5,777.2 813.0,779.5 811.6,781.8 810.1,784.0 808.7,786.3 807.3,788.5 806.0,790.7 804.6,792.9 803.3,795.0 801.9,797.1 800.6,799.3 799.3,801.4ZM826.9,801.4 828.2,799.3 829.5,797.1 830.8,795.0 832.1,792.9 833.4,790.7 834.8,788.5 836.1,786.3 837.5,784.0 838.9,781.8 840.3,779.5 841.7,777.2 843.2,774.9 844.6,772.5 846.1,770.1 847.6,767.7 849.1,765.3 850.6,762.9 852.2,760.4 853.7,757.9 855.3,755.3 856.9,752.8 858.5,750.2 860.2,747.6 861.9,744.9 863.5,742.2 865.3,739.5 867.0,736.8 868.8,734.0 870.5,731.2 872.4,728.3 874.2,725.4 876.1,722.5 877.9,719.6 879.9,716.6 881.8,713.5 883.8,710.4 885.8,707.3 887.8,704.2 889.9,701.0 892.0,697.7 894.1,694.4 896.3,691.1 898.5,687.7 900.8,684.2 903.1,680.7 905.4,677.2 907.7,673.5 910.2,669.9 912.6,666.1 915.1,662.4 917.7,658.5 920.3,654.6 922.9,650.6 925.6,646.5 928.4,642.4 931.2,638.2 934.0,633.9 937.0,629.5 940.0,625.1 943.0,620.5 946.2,615.9 949.4,611.2 952.6,606.4 956.0,601.4 959.4,596.4 963.0,591.2 966.6,586.0 970.3,580.6 974.1,575.0 978.0,569.4 982.0,563.6 986.2,557.6 990.4,551.5 994.8,545.2 999.4,538.7 1004.0,532.1 1008.9,525.3 1013.9,518.2 1019.0,510.9 1024.4,503.4 1030.0,495.6 1035.7,487.6 1041.7,479.2 1048.0,470.6 1054.5,461.6 1061.3,452.2 1068.5,442.5 1076.0,432.3 1083.8,421.6 1092.1,410.4 1093.1,410.4 1084.8,421.6 1077.0,432.3 1069.5,442.5 1062.3,452.2 1055.5,461.6 1049.0,470.6 1042.7,479.2 1036.7,487.6 1031.0,495.6 1025.4,503.4 1020.0,510.9 1014.9,518.2 1009.9,525.3 1005.0,532.1 1000.4,538.7 995.8,545.2 991.4,551.5 987.2,557.6 983.0,563.6 979.0,569.4 975.1,575.0 971.3,580.6 967.6,586.0 964.0,591.2 960.4,596.4 957.0,601.4 953.6,606.4 950.4,611.2 947.2,615.9 944.0,620.5 941.0,625.1 938.0,629.5 935.0,633.9 932.2,638.2 929.4,642.4 926.6,646.5 923.9,650.6 921.3,654.6 918.7,658.5 916.1,662.4 913.6,666.1 911.2,669.9 908.7,673.5 906.4,677.2 904.1,680.7 901.8,684.2 899.5,687.7 897.3,691.1 895.1,694.4 893.0,697.7 890.9,701.0 888.8,704.2 886.8,707.3 884.8,710.4 882.8,713.5 880.9,716.6 878.9,719.6 877.1,722.5 875.2,725.4 873.4,728.3 871.5,731.2 869.8,734.0 868.0,736.8 866.3,739.5 864.5,742.2 862.9,744.9 861.2,747.6 859.5,750.2 857.9,752.8 856.3,755.3 854.7,757.9 853.2,760.4 851.6,762.9 850.1,765.3 848.6,767.7 847.1,770.1 845.6,772.5 844.2,774.9 842.7,777.2 841.3,779.5 839.9,781.8 838.5,784.0 837.1,786.3 835.8,788.5 834.4,790.7 833.1,792.9 831.8,795.0 830.5,797.1 829.2,799.3 827.9,801.4ZM853.7,801.4 855.0,799.3 856.2,797.1 857.5,795.0 858.8,792.9 860.1,790.7 861.4,788.5 862.7,786.3 864.0,784.0 865.4,781.8 866.8,779.5 868.2,777.2 869.6,774.9 871.0,772.5 872.4,770.1 873.9,767.7 875.3,765.3 876.8,762.9 878.3,760.4 879.9,757.9 881.4,755.3 883.0,752.8 884.6,750.2 886.2,747.6 887.8,744.9 889.5,742.2 891.2,739.5 892.9,736.8 894.6,734.0 896.3,731.2 898.1,728.3 899.9,725.4 901.7,722.5 903.6,719.6 905.4,716.6 907.3,713.5 909.3,710.4 911.2,707.3 913.2,704.2 915.3,701.0 917.3,697.7 919.4,694.4 921.5,691.1 923.7,687.7 925.9,684.2 928.2,680.7 930.4,677.2 932.8,673.5 935.1,669.9 937.5,666.1 940.0,662.4 942.5,658.5 945.0,654.6 947.6,650.6 950.3,646.5 953.0,642.4 955.7,638.2 958.5,633.9 961.4,629.5 964.3,625.1 967.4,620.5 970.4,615.9 973.6,611.2 976.8,606.4 980.1,601.4 983.5,596.4 986.9,591.2 990.5,586.0 994.1,580.6 997.9,575.0 1001.7,569.4 1005.7,563.6 1009.7,557.6 1013.9,551.5 1018.2,545.2 1022.7,538.7 1027.3,532.1 1032.0,525.3 1037.0,518.2 1042.0,510.9 1047.3,503.4 1052.8,495.6 1058.5,487.6 1064.4,479.2 1070.5,470.6 1077.0,461.6 1083.7,452.2 1090.7,442.5 1091.7,442.5 1084.7,452.2 1078.0,461.6 1071.5,470.6 1065.4,479.2 1059.5,487.6 1053.8,495.6 1048.3,503.4 1043.0,510.9 1038.0,518.2 1033.0,525.3 1028.3,532.1 1023.7,538.7 1019.2,545.2 1014.9,551.5 1010.7,557.6 1006.7,563.6 1002.7,569.4 998.9,575.0 995.1,580.6 991.5,586.0 987.9,591.2 984.5,596.4 981.1,601.4 977.8,606.4 974.6,611.2 971.4,615.9 968.4,620.5 965.3,625.1 962.4,629.5 959.5,633.9 956.7,638.2 954.0,642.4 951.3,646.5 948.6,650.6 946.0,654.6 943.5,658.5 941.0,662.4 938.5,666.1 936.1,669.9 933.8,673.5 931.4,677.2 929.2,680.7 926.9,684.2 924.7,687.7 922.5,691.1 920.4,694.4 918.3,697.7 916.3,701.0 914.2,704.2 912.2,707.3 910.3,710.4 908.3,713.5 906.4,716.6 904.6,719.6 902.7,722.5 900.9,725.4 899.1,728.3 897.3,731.2 895.6,734.0 893.9,736.8 892.2,739.5 890.5,742.2 888.8,744.9 887.2,747.6 885.6,750.2 884.0,752.8 882.4,755.3 880.9,757.9 879.3,760.4 877.8,762.9 876.3,765.3 874.9,767.7 873.4,770.1 872.0,772.5 870.6,774.9 869.2,777.2 867.8,779.5 866.4,781.8 865.0,784.0 863.7,786.3 862.4,788.5 861.1,790.7 859.8,792.9 858.5,795.0 857.2,797.1 856.0,799.3 854.7,801.4ZM878.8,801.4 880.1,799.3 881.3,797.1 882.5,795.0 883.8,792.9 885.0,790.7 886.3,788.5 887.6,786.3 888.9,784.0 890.3,781.8 891.6,779.5 893.0,777.2 894.3,774.9 895.7,772.5 897.1,770.1 898.6,767.7 900.0,765.3 901.5,762.9 902.9,760.4 904.4,757.9 905.9,755.3 907.5,752.8 909.0,750.2 910.6,747.6 912.2,744.9 913.8,742.2 915.5,739.5 917.1,736.8 918.8,734.0 920.5,731.2 922.3,728.3 924.0,725.4 925.8,722.5 927.6,719.6 929.4,716.6 931.3,713.5 933.2,710.4 935.1,707.3 937.1,704.2 939.1,701.0 941.1,697.7 943.1,694.4 945.2,691.1 947.4,687.7 949.5,684.2 951.7,680.7 953.9,677.2 956.2,673.5 958.5,669.9 960.9,666.1 963.3,662.4 965.7,658.5 968.2,654.6 970.8,650.6 973.4,646.5 976.0,642.4 978.7,638.2 981.5,633.9 984.3,629.5 987.2,625.1 990.2,620.5 993.2,615.9 996.3,611.2 999.4,606.4 1002.7,601.4 1006.0,596.4 1009.4,591.2 1012.9,586.0 1016.5,580.6 1020.1,575.0 1023.9,569.4 1027.8,563.6 1031.8,557.6 1035.9,551.5 1040.2,545.2 1044.6,538.7 1049.1,532.1 1053.8,525.3 1058.6,518.2 1063.6,510.9 1068.8,503.4 1074.2,495.6 1079.8,487.6 1085.6,479.2 1091.7,470.6 1092.7,470.6 1086.6,479.2 1080.8,487.6 1075.2,495.6 1069.8,503.4 1064.6,510.9 1059.6,518.2 1054.8,525.3 1050.1,532.1 1045.6,538.7 1041.2,545.2 1036.9,551.5 1032.8,557.6 1028.8,563.6 1024.9,569.4 1021.1,575.0 1017.5,580.6 1013.9,586.0 1010.4,591.2 1007.0,596.4 1003.7,601.4 1000.4,606.4 997.3,611.2 994.2,615.9 991.2,620.5 988.2,625.1 985.3,629.5 982.5,633.9 979.7,638.2 977.0,642.4 974.4,646.5 971.8,650.6 969.2,654.6 966.7,658.5 964.3,662.4 961.9,666.1 959.5,669.9 957.2,673.5 954.9,677.2 952.7,680.7 950.5,684.2 948.4,687.7 946.2,691.1 944.1,694.4 942.1,697.7 940.1,701.0 938.1,704.2 936.1,707.3 934.2,710.4 932.3,713.5 930.4,716.6 928.6,719.6 926.8,722.5 925.0,725.4 923.3,728.3 921.5,731.2 919.8,734.0 918.1,736.8 916.5,739.5 914.8,742.2 913.2,744.9 911.6,747.6 910.0,750.2 908.5,752.8 906.9,755.3 905.4,757.9 903.9,760.4 902.5,762.9 901.0,765.3 899.6,767.7 898.1,770.1 896.7,772.5 895.3,774.9 894.0,777.2 892.6,779.5 891.3,781.8 889.9,784.0 888.6,786.3 887.3,788.5 886.0,790.7 884.8,792.9 883.5,795.0 882.3,797.1 881.1,799.3 879.8,801.4ZM902.5,801.4 903.7,799.3 904.9,797.1 906.1,795.0 907.4,792.9 908.6,790.7 909.9,788.5 911.1,786.3 912.4,784.0 913.7,781.8 915.0,779.5 916.3,777.2 917.7,774.9 919.1,772.5 920.4,770.1 921.8,767.7 923.2,765.3 924.7,762.9 926.1,760.4 927.6,757.9 929.0,755.3 930.6,752.8 932.1,750.2 933.6,747.6 935.2,744.9 936.8,742.2 938.4,739.5 940.0,736.8 941.6,734.0 943.3,731.2 945.0,728.3 946.7,725.4 948.5,722.5 950.3,719.6 952.1,716.6 953.9,713.5 955.8,710.4 957.6,707.3 959.6,704.2 961.5,701.0 963.5,697.7 965.5,694.4 967.6,691.1 969.6,687.7 971.8,684.2 973.9,680.7 976.1,677.2 978.3,673.5 980.6,669.9 982.9,666.1 985.3,662.4 987.7,658.5 990.1,654.6 992.6,650.6 995.2,646.5 997.8,642.4 1000.4,638.2 1003.2,633.9 1005.9,629.5 1008.8,625.1 1011.7,620.5 1014.6,615.9 1017.7,611.2 1020.8,606.4 1024.0,601.4 1027.2,596.4 1030.6,591.2 1034.0,586.0 1037.5,580.6 1041.1,575.0 1044.9,569.4 1048.7,563.6 1052.6,557.6 1056.7,551.5 1060.9,545.2 1065.2,538.7 1069.6,532.1 1074.2,525.3 1079.0,518.2 1083.9,510.9 1089.0,503.4 1090.0,503.4 1084.9,510.9 1080.0,518.2 1075.2,525.3 1070.6,532.1 1066.2,538.7 1061.9,545.2 1057.7,551.5 1053.6,557.6 1049.7,563.6 1045.9,569.4 1042.1,575.0 1038.5,580.6 1035.0,586.0 1031.6,591.2 1028.2,596.4 1025.0,601.4 1021.8,606.4 1018.7,611.2 1015.6,615.9 1012.7,620.5 1009.8,625.1 1006.9,629.5 1004.2,633.9 1001.4,638.2 998.8,642.4 996.2,646.5 993.6,650.6 991.1,654.6 988.7,658.5 986.3,662.4 983.9,666.1 981.6,669.9 979.3,673.5 977.1,677.2 974.9,680.7 972.8,684.2 970.6,687.7 968.6,691.1 966.5,694.4 964.5,697.7 962.5,701.0 960.6,704.2 958.6,707.3 956.8,710.4 954.9,713.5 953.1,716.6 951.3,719.6 949.5,722.5 947.7,725.4 946.0,728.3 944.3,731.2 942.6,734.0 941.0,736.8 939.4,739.5 937.8,742.2 936.2,744.9 934.6,747.6 933.1,750.2 931.6,752.8 930.0,755.3 928.6,757.9 927.1,760.4 925.7,762.9 924.2,765.3 922.8,767.7 921.4,770.1 920.1,772.5 918.7,774.9 917.3,777.2 916.0,779.5 914.7,781.8 913.4,784.0 912.1,786.3 910.9,788.5 909.6,790.7 908.4,792.9 907.1,795.0 905.9,797.1 904.7,799.3 903.5,801.4ZM925.0,801.4 926.1,799.3 927.3,797.1 928.5,795.0 929.7,792.9 930.9,790.7 932.1,788.5 933.4,786.3 934.6,784.0 935.9,781.8 937.2,779.5 938.5,777.2 939.8,774.9 941.1,772.5 942.5,770.1 943.8,767.7 945.2,765.3 946.6,762.9 948.0,760.4 949.5,757.9 950.9,755.3 952.4,752.8 953.9,750.2 955.4,747.6 956.9,744.9 958.5,742.2 960.0,739.5 961.6,736.8 963.2,734.0 964.9,731.2 966.6,728.3 968.2,725.4 970.0,722.5 971.7,719.6 973.5,716.6 975.3,713.5 977.1,710.4 978.9,707.3 980.8,704.2 982.7,701.0 984.7,697.7 986.6,694.4 988.7,691.1 990.7,687.7 992.8,684.2 994.9,680.7 997.0,677.2 999.2,673.5 1001.5,669.9 1003.7,666.1 1006.1,662.4 1008.4,658.5 1010.8,654.6 1013.3,650.6 1015.8,646.5 1018.3,642.4 1021.0,638.2 1023.6,633.9 1026.4,629.5 1029.1,625.1 1032.0,620.5 1034.9,615.9 1037.9,611.2 1040.9,606.4 1044.1,601.4 1047.3,596.4 1050.6,591.2 1054.0,586.0 1057.4,580.6 1061.0,575.0 1064.6,569.4 1068.4,563.6 1072.3,557.6 1076.3,551.5 1080.4,545.2 1084.6,538.7 1089.0,532.1 1090.0,532.1 1085.6,538.7 1081.4,545.2 1077.3,551.5 1073.3,557.6 1069.4,563.6 1065.6,569.4 1062.0,575.0 1058.4,580.6 1055.0,586.0 1051.6,591.2 1048.3,596.4 1045.1,601.4 1041.9,606.4 1038.9,611.2 1035.9,615.9 1033.0,620.5 1030.1,625.1 1027.4,629.5 1024.6,633.9 1022.0,638.2 1019.3,642.4 1016.8,646.5 1014.3,650.6 1011.8,654.6 1009.4,658.5 1007.1,662.4 1004.7,666.1 1002.5,669.9 1000.2,673.5 998.0,677.2 995.9,680.7 993.8,684.2 991.7,687.7 989.7,691.1 987.6,694.4 985.7,697.7 983.7,701.0 981.8,704.2 979.9,707.3 978.1,710.4 976.3,713.5 974.5,716.6 972.7,719.6 971.0,722.5 969.2,725.4 967.6,728.3 965.9,731.2 964.2,734.0 962.6,736.8 961.0,739.5 959.5,742.2 957.9,744.9 956.4,747.6 954.9,750.2 953.4,752.8 951.9,755.3 950.5,757.9 949.0,760.4 947.6,762.9 946.2,765.3 944.8,767.7 943.5,770.1 942.1,772.5 940.8,774.9 939.5,777.2 938.2,779.5 936.9,781.8 935.6,784.0 934.4,786.3 933.1,788.5 931.9,790.7 930.7,792.9 929.5,795.0 928.3,797.1 927.1,799.3 926.0,801.4ZM946.2,801.4 947.4,799.3 948.5,797.1 949.7,795.0 950.8,792.9 952.0,790.7 953.2,788.5 954.4,786.3 955.7,784.0 956.9,781.8 958.2,779.5 959.4,777.2 960.7,774.9 962.0,772.5 963.4,770.1 964.7,767.7 966.0,765.3 967.4,762.9 968.8,760.4 970.2,757.9 971.6,755.3 973.1,752.8 974.5,750.2 976.0,747.6 977.5,744.9 979.0,742.2 980.6,739.5 982.1,736.8 983.7,734.0 985.3,731.2 987.0,728.3 988.6,725.4 990.3,722.5 992.0,719.6 993.8,716.6 995.5,713.5 997.3,710.4 999.1,707.3 1001.0,704.2 1002.8,701.0 1004.8,697.7 1006.7,694.4 1008.7,691.1 1010.7,687.7 1012.7,684.2 1014.8,680.7 1016.9,677.2 1019.1,673.5 1021.2,669.9 1023.5,666.1 1025.8,662.4 1028.1,658.5 1030.4,654.6 1032.9,650.6 1035.3,646.5 1037.8,642.4 1040.4,638.2 1043.0,633.9 1045.7,629.5 1048.5,625.1 1051.3,620.5 1054.1,615.9 1057.1,611.2 1060.1,606.4 1063.1,601.4 1066.3,596.4 1069.5,591.2 1072.9,586.0 1076.3,580.6 1079.8,575.0 1083.4,569.4 1087.1,563.6 1090.9,557.6 1091.9,557.6 1088.1,563.6 1084.4,569.4 1080.8,575.0 1077.3,580.6 1073.9,586.0 1070.5,591.2 1067.3,596.4 1064.1,601.4 1061.1,606.4 1058.1,611.2 1055.1,615.9 1052.3,620.5 1049.5,625.1 1046.7,629.5 1044.0,633.9 1041.4,638.2 1038.8,642.4 1036.3,646.5 1033.9,650.6 1031.4,654.6 1029.1,658.5 1026.8,662.4 1024.5,666.1 1022.2,669.9 1020.1,673.5 1017.9,677.2 1015.8,680.7 1013.7,684.2 1011.7,687.7 1009.7,691.1 1007.7,694.4 1005.8,697.7 1003.8,701.0 1002.0,704.2 1000.1,707.3 998.3,710.4 996.5,713.5 994.8,716.6 993.0,719.6 991.3,722.5 989.6,725.4 988.0,728.3 986.3,731.2 984.7,734.0 983.1,736.8 981.6,739.5 980.0,742.2 978.5,744.9 977.0,747.6 975.5,750.2 974.1,752.8 972.6,755.3 971.2,757.9 969.8,760.4 968.4,762.9 967.0,765.3 965.7,767.7 964.4,770.1 963.0,772.5 961.7,774.9 960.4,777.2 959.2,779.5 957.9,781.8 956.7,784.0 955.4,786.3 954.2,788.5 953.0,790.7 951.8,792.9 950.7,795.0 949.5,797.1 948.4,799.3 947.2,801.4ZM966.5,801.4 967.6,799.3 968.7,797.1 969.8,795.0 971.0,792.9 972.1,790.7 973.3,788.5 974.5,786.3 975.7,784.0 976.9,781.8 978.2,779.5 979.4,777.2 980.7,774.9 981.9,772.5 983.2,770.1 984.5,767.7 985.9,765.3 987.2,762.9 988.6,760.4 989.9,757.9 991.3,755.3 992.8,752.8 994.2,750.2 995.6,747.6 997.1,744.9 998.6,742.2 1000.1,739.5 1001.7,736.8 1003.2,734.0 1004.8,731.2 1006.4,728.3 1008.0,725.4 1009.7,722.5 1011.3,719.6 1013.0,716.6 1014.8,713.5 1016.5,710.4 1018.3,707.3 1020.1,704.2 1022.0,701.0 1023.8,697.7 1025.7,694.4 1027.7,691.1 1029.7,687.7 1031.7,684.2 1033.7,680.7 1035.8,677.2 1037.9,673.5 1040.0,669.9 1042.2,666.1 1044.5,662.4 1046.8,658.5 1049.1,654.6 1051.5,650.6 1053.9,646.5 1056.4,642.4 1058.9,638.2 1061.5,633.9 1064.1,629.5 1066.8,625.1 1069.6,620.5 1072.4,615.9 1075.3,611.2 1078.2,606.4 1081.3,601.4 1084.4,596.4 1087.6,591.2 1090.8,586.0 1091.8,586.0 1088.6,591.2 1085.4,596.4 1082.3,601.4 1079.2,606.4 1076.3,611.2 1073.4,615.9 1070.6,620.5 1067.8,625.1 1065.1,629.5 1062.5,633.9 1059.9,638.2 1057.4,642.4 1054.9,646.5 1052.5,650.6 1050.1,654.6 1047.8,658.5 1045.5,662.4 1043.2,666.1 1041.0,669.9 1038.9,673.5 1036.8,677.2 1034.7,680.7 1032.7,684.2 1030.7,687.7 1028.7,691.1 1026.7,694.4 1024.8,697.7 1023.0,701.0 1021.1,704.2 1019.3,707.3 1017.5,710.4 1015.8,713.5 1014.0,716.6 1012.3,719.6 1010.7,722.5 1009.0,725.4 1007.4,728.3 1005.8,731.2 1004.2,734.0 1002.7,736.8 1001.1,739.5 999.6,742.2 998.1,744.9 996.6,747.6 995.2,750.2 993.8,752.8 992.3,755.3 990.9,757.9 989.6,760.4 988.2,762.9 986.9,765.3 985.5,767.7 984.2,770.1 982.9,772.5 981.7,774.9 980.4,777.2 979.2,779.5 977.9,781.8 976.7,784.0 975.5,786.3 974.3,788.5 973.1,790.7 972.0,792.9 970.8,795.0 969.7,797.1 968.6,799.3 967.5,801.4ZM985.7,801.4 986.8,799.3 987.9,797.1 989.0,795.0 990.2,792.9 991.3,790.7 992.4,788.5 993.6,786.3 994.8,784.0 996.0,781.8 997.2,779.5 998.4,777.2 999.6,774.9 1000.9,772.5 1002.2,770.1 1003.5,767.7 1004.8,765.3 1006.1,762.9 1007.4,760.4 1008.8,757.9 1010.1,755.3 1011.5,752.8 1012.9,750.2 1014.3,747.6 1015.8,744.9 1017.2,742.2 1018.7,739.5 1020.2,736.8 1021.8,734.0 1023.3,731.2 1024.9,728.3 1026.5,725.4 1028.1,722.5 1029.8,719.6 1031.4,716.6 1033.1,713.5 1034.8,710.4 1036.6,707.3 1038.4,704.2 1040.2,701.0 1042.0,697.7 1043.9,694.4 1045.8,691.1 1047.7,687.7 1049.7,684.2 1051.7,680.7 1053.8,677.2 1055.8,673.5 1058.0,669.9 1060.1,666.1 1062.3,662.4 1064.6,658.5 1066.9,654.6 1069.2,650.6 1071.6,646.5 1074.0,642.4 1076.5,638.2 1079.0,633.9 1081.6,629.5 1084.3,625.1 1087.0,620.5 1089.8,615.9 1090.8,615.9 1088.0,620.5 1085.3,625.1 1082.6,629.5 1080.0,633.9 1077.5,638.2 1075.0,642.4 1072.6,646.5 1070.2,650.6 1067.9,654.6 1065.6,658.5 1063.3,662.4 1061.1,666.1 1059.0,669.9 1056.8,673.5 1054.8,677.2 1052.7,680.7 1050.7,684.2 1048.7,687.7 1046.8,691.1 1044.9,694.4 1043.0,697.7 1041.2,701.0 1039.4,704.2 1037.6,707.3 1035.8,710.4 1034.1,713.5 1032.4,716.6 1030.8,719.6 1029.1,722.5 1027.5,725.4 1025.9,728.3 1024.3,731.2 1022.8,734.0 1021.2,736.8 1019.7,739.5 1018.2,742.2 1016.8,744.9 1015.3,747.6 1013.9,750.2 1012.5,752.8 1011.1,755.3 1009.8,757.9 1008.4,760.4 1007.1,762.9 1005.8,765.3 1004.5,767.7 1003.2,770.1 1001.9,772.5 1000.6,774.9 999.4,777.2 998.2,779.5 997.0,781.8 995.8,784.0 994.6,786.3 993.4,788.5 992.3,790.7 991.2,792.9 990.0,795.0 988.9,797.1 987.8,799.3 986.7,801.4ZM1004.1,801.4 1005.2,799.3 1006.3,797.1 1007.4,795.0 1008.5,792.9 1009.6,790.7 1010.7,788.5 1011.9,786.3 1013.0,784.0 1014.2,781.8 1015.4,779.5 1016.6,777.2 1017.8,774.9 1019.0,772.5 1020.3,770.1 1021.5,767.7 1022.8,765.3 1024.1,762.9 1025.4,760.4 1026.7,757.9 1028.1,755.3 1029.4,752.8 1030.8,750.2 1032.2,747.6 1033.6,744.9 1035.0,742.2 1036.5,739.5 1038.0,736.8 1039.5,734.0 1041.0,731.2 1042.6,728.3 1044.1,725.4 1045.7,722.5 1047.3,719.6 1049.0,716.6 1050.6,713.5 1052.3,710.4 1054.1,707.3 1055.8,704.2 1057.6,701.0 1059.4,697.7 1061.2,694.4 1063.1,691.1 1065.0,687.7 1066.9,684.2 1068.9,680.7 1070.9,677.2 1073.0,673.5 1075.1,669.9 1077.2,666.1 1079.3,662.4 1081.6,658.5 1083.8,654.6 1086.1,650.6 1088.5,646.5 1090.8,642.4 1091.8,642.4 1089.5,646.5 1087.1,650.6 1084.8,654.6 1082.6,658.5 1080.3,662.4 1078.2,666.1 1076.1,669.9 1074.0,673.5 1071.9,677.2 1069.9,680.7 1067.9,684.2 1066.0,687.7 1064.1,691.1 1062.2,694.4 1060.4,697.7 1058.6,701.0 1056.8,704.2 1055.1,707.3 1053.3,710.4 1051.6,713.5 1050.0,716.6 1048.3,719.6 1046.7,722.5 1045.1,725.4 1043.6,728.3 1042.0,731.2 1040.5,734.0 1039.0,736.8 1037.5,739.5 1036.0,742.2 1034.6,744.9 1033.2,747.6 1031.8,750.2 1030.4,752.8 1029.1,755.3 1027.7,757.9 1026.4,760.4 1025.1,762.9 1023.8,765.3 1022.5,767.7 1021.3,770.1 1020.0,772.5 1018.8,774.9 1017.6,777.2 1016.4,779.5 1015.2,781.8 1014.0,784.0 1012.9,786.3 1011.7,788.5 1010.6,790.7 1009.5,792.9 1008.4,795.0 1007.3,797.1 1006.2,799.3 1005.1,801.4ZM1021.7,801.4 1022.8,799.3 1023.8,797.1 1024.9,795.0 1026.0,792.9 1027.1,790.7 1028.2,788.5 1029.3,786.3 1030.5,784.0 1031.6,781.8 1032.8,779.5 1033.9,777.2 1035.1,774.9 1036.3,772.5 1037.5,770.1 1038.8,767.7 1040.0,765.3 1041.3,762.9 1042.6,760.4 1043.9,757.9 1045.2,755.3 1046.5,752.8 1047.9,750.2 1049.3,747.6 1050.7,744.9 1052.1,742.2 1053.5,739.5 1055.0,736.8 1056.4,734.0 1057.9,731.2 1059.4,728.3 1061.0,725.4 1062.5,722.5 1064.1,719.6 1065.8,716.6 1067.4,713.5 1069.1,710.4 1070.7,707.3 1072.5,704.2 1074.2,701.0 1076.0,697.7 1077.8,694.4 1079.6,691.1 1081.5,687.7 1083.4,684.2 1085.4,680.7 1087.3,677.2 1089.4,673.5 1090.4,673.5 1088.3,677.2 1086.4,680.7 1084.4,684.2 1082.5,687.7 1080.6,691.1 1078.8,694.4 1077.0,697.7 1075.2,701.0 1073.5,704.2 1071.7,707.3 1070.1,710.4 1068.4,713.5 1066.8,716.6 1065.1,719.6 1063.5,722.5 1062.0,725.4 1060.4,728.3 1058.9,731.2 1057.4,734.0 1056.0,736.8 1054.5,739.5 1053.1,742.2 1051.7,744.9 1050.3,747.6 1048.9,750.2 1047.5,752.8 1046.2,755.3 1044.9,757.9 1043.6,760.4 1042.3,762.9 1041.0,765.3 1039.8,767.7 1038.5,770.1 1037.3,772.5 1036.1,774.9 1034.9,777.2 1033.8,779.5 1032.6,781.8 1031.5,784.0 1030.3,786.3 1029.2,788.5 1028.1,790.7 1027.0,792.9 1025.9,795.0 1024.8,797.1 1023.8,799.3 1022.7,801.4ZM1038.6,801.4 1039.6,799.3 1040.7,797.1 1041.7,795.0 1042.8,792.9 1043.9,790.7 1044.9,788.5 1046.0,786.3 1047.2,784.0 1048.3,781.8 1049.4,779.5 1050.6,777.2 1051.7,774.9 1052.9,772.5 1054.1,770.1 1055.3,767.7 1056.6,765.3 1057.8,762.9 1059.1,760.4 1060.3,757.9 1061.6,755.3 1062.9,752.8 1064.3,750.2 1065.6,747.6 1067.0,744.9 1068.4,742.2 1069.8,739.5 1071.2,736.8 1072.7,734.0 1074.1,731.2 1075.6,728.3 1077.1,725.4 1078.7,722.5 1080.2,719.6 1081.8,716.6 1083.4,713.5 1085.1,710.4 1086.7,707.3 1088.4,704.2 1090.1,701.0 1091.1,701.0 1089.4,704.2 1087.7,707.3 1086.1,710.4 1084.4,713.5 1082.8,716.6 1081.2,719.6 1079.7,722.5 1078.1,725.4 1076.6,728.3 1075.1,731.2 1073.7,734.0 1072.2,736.8 1070.8,739.5 1069.4,742.2 1068.0,744.9 1066.6,747.6 1065.3,750.2 1063.9,752.8 1062.6,755.3 1061.3,757.9 1060.1,760.4 1058.8,762.9 1057.6,765.3 1056.3,767.7 1055.1,770.1 1053.9,772.5 1052.7,774.9 1051.6,777.2 1050.4,779.5 1049.3,781.8 1048.2,784.0 1047.0,786.3 1045.9,788.5 1044.9,790.7 1043.8,792.9 1042.7,795.0 1041.7,797.1 1040.6,799.3 1039.6,801.4ZM1054.8,801.4 1055.8,799.3 1056.8,797.1 1057.8,795.0 1058.9,792.9 1059.9,790.7 1061.0,788.5 1062.1,786.3 1063.2,784.0 1064.3,781.8 1065.4,779.5 1066.5,777.2 1067.7,774.9 1068.8,772.5 1070.0,770.1 1071.2,767.7 1072.4,765.3 1073.6,762.9 1074.9,760.4 1076.1,757.9 1077.4,755.3 1078.7,752.8 1080.0,750.2 1081.3,747.6 1082.7,744.9 1084.0,742.2 1085.4,739.5 1086.8,736.8 1088.2,734.0 1089.7,731.2 1090.7,731.2 1089.2,734.0 1087.8,736.8 1086.4,739.5 1085.0,742.2 1083.7,744.9 1082.3,747.6 1081.0,750.2 1079.7,752.8 1078.4,755.3 1077.1,757.9 1075.9,760.4 1074.6,762.9 1073.4,765.3 1072.2,767.7 1071.0,770.1 1069.8,772.5 1068.7,774.9 1067.5,777.2 1066.4,779.5 1065.3,781.8 1064.2,784.0 1063.1,786.3 1062.0,788.5 1060.9,790.7 1059.9,792.9 1058.8,795.0 1057.8,797.1 1056.8,799.3 1055.8,801.4ZM1070.3,801.4 1071.3,799.3 1072.3,797.1 1073.3,795.0 1074.4,792.9 1075.4,790.7 1076.4,788.5 1077.5,786.3 1078.6,784.0 1079.6,781.8 1080.7,779.5 1081.9,777.2 1083.0,774.9 1084.1,772.5 1085.3,770.1 1086.4,767.7 1087.6,765.3 1088.8,762.9 1089.8,762.9 1088.6,765.3 1087.4,767.7 1086.3,770.1 1085.1,772.5 1084.0,774.9 1082.9,777.2 1081.7,779.5 1080.6,781.8 1079.6,784.0 1078.5,786.3 1077.4,788.5 1076.4,790.7 1075.4,792.9 1074.3,795.0 1073.3,797.1 1072.3,799.3 1071.3,801.4ZM1085.3,801.4 1086.2,799.3 1087.2,797.1 1088.2,795.0 1089.2,792.9 1090.2,792.9 1089.2,795.0 1088.2,797.1 1087.2,799.3 1086.3,801.4Z"/></g><g stroke="#000" stroke-width="1" fill="none" shape-rendering="crispEdges"><path d="M168,92.5H1077" stroke-dasharray="1 4"/><path d="M171,92.5H1077" stroke-dasharray="1 4"/><path d="M157,92.5H167M1076,92.5H1086"/><path d="M168,133.5H1077" stroke-dasharray="1 4"/><path d="M171,133.5H1077" stroke-dasharray="1 4"/><path d="M157,133.5H167M1076,133.5H1086"/><path d="M168,169.5H1077" stroke-dasharray="1 4"/><path d="M171,169.5H1077" stroke-dasharray="1 4"/><path d="M157,169.5H167M1076,169.5H1086"/><path d="M168,199.5H1077" stroke-dasharray="1 4"/><path d="M171,199.5H1077" stroke-dasharray="1 4"/><path d="M157,199.5H167M1076,199.5H1086"/><path d="M168,226.5H1077" stroke-dasharray="1 4"/><path d="M171,226.5H1077" stroke-dasharray="1 4"/><path d="M157,226.5H167M1076,226.5H1086"/><path d="M168,251.5H1077" stroke-dasharray="1 4"/><path d="M171,251.5H1077" stroke-dasharray="1 4"/><path d="M157,251.5H167M1076,251.5H1086"/><path d="M168,410.5H1077" stroke-dasharray="1 4"/><path d="M171,410.5H1077" stroke-dasharray="1 4"/><path d="M157,410.5H167M1076,410.5H1086"/><path d="M168,503.5H1077" stroke-dasharray="1 4"/><path d="M171,503.5H1077" stroke-dasharray="1 4"/><path d="M157,503.5H167M1076,503.5H1086"/><path d="M168,569.5H1077" stroke-dasharray="1 4"/><path d="M171,569.5H1077" stroke-dasharray="1 4"/><path d="M157,569.5H167M1076,569.5H1086"/><path d="M168,620.5H1077" stroke-dasharray="1 4"/><path d="M171,620.5H1077" stroke-dasharray="1 4"/><path d="M157,620.5H167M1076,620.5H1086"/><path d="M168,662.5H1077" stroke-dasharray="1 4"/><path d="M171,662.5H1077" stroke-dasharray="1 4"/><path d="M157,662.5H167M1076,662.5H1086"/><path d="M168,697.5H1077" stroke-dasharray="1 4"/><path d="M157,697.5H167M1076,697.5H1086"/><path d="M168,727.5H1077" stroke-dasharray="1 4"/><path d="M157,727.5H167M1076,727.5H1086"/><path d="M168,754.5H1077" stroke-dasharray="1 4"/><path d="M157,754.5H167M1076,754.5H1086"/><path d="M168,779.5H1077" stroke-dasharray="1 4"/><path d="M157,779.5H167M1076,779.5H1086"/><path d="M207.5,791V801M207.5,69V78"/><path d="M311.5,791V801M311.5,69V78"/><path d="M414.5,791V801M414.5,69V78"/><path d="M517.5,791V801M517.5,69V78"/><path d="M621.5,791V801M621.5,69V78"/><path d="M724.5,791V801M724.5,69V78"/><path d="M827.5,791V801M827.5,69V78"/><path d="M931.5,791V801M931.5,69V78"/><path d="M1034.5,791V801M1034.5,69V78"/><rect x="156.5" y="68.5" width="930" height="733"/></g><g clip-path="url(#pc)" fill="none" stroke="#000" stroke-width="4.5" stroke-linejoin="round" shape-rendering="crispEdges"><path d="M958.00,64.70 L880.00,101.50 L840.00,120.30 L820.00,131.70 L786.70,147.50 L753.30,163.30 L736.70,170.80 L720.00,180.00 L703.30,191.70 L686.70,203.30 L670.00,217.50 L653.30,231.70 L636.70,250.00 L620.00,268.30 L611.00,278.70 L580.00,310.00 L553.30,340.00 L540.00,356.70 L528.90,373.30 L522.20,390.00 L518.30,402.20 L516.70,410.00 L523.00,423.30 L527.50,430.00 L532.80,437.80 L539.00,445.00 L560.00,465.50 L580.00,480.00 L600.00,492.50 L620.00,504.00 L630.00,511.00 L650.00,525.50 L670.00,540.50 L690.00,555.50 L710.00,569.40 L729.00,586.00 L742.00,601.70 L755.20,620.30 L770.00,640.00 L782.00,662.70 L794.00,680.00 L801.10,697.50 L804.20,703.30 L807.50,711.70 L807.90,720.00 L807.50,725.00 L806.90,728.30 L804.70,735.00 L804.00,743.90 L800.80,751.10 L796.70,756.70 L794.70,762.20 L788.90,767.80 L782.50,773.30 L780.80,778.90 L780.00,782.50"/><path d="M771.70,782.30 L771.30,773.70 L771.30,772.30M771.00,768.06 L762.70,761.30 L761.00,760.87M756.70,759.86 L748.30,758.00 L746.70,757.69M742.40,756.61 L734.70,754.30 L732.40,752.54M728.10,750.49 L720.70,747.70 L718.10,746.51M713.80,745.06 L706.70,742.90 L703.80,742.07M699.50,741.41 L693.30,740.80 L689.50,740.47M685.20,739.95 L679.20,739.20 L675.20,738.81M670.90,738.25 L665.40,737.50 L660.90,737.14M656.60,736.75 L651.25,736.25 L646.70,735.40 L646.60,735.38M642.30,734.40 L637.50,733.30 L633.75,732.50 L632.30,732.25M628.00,731.52 L624.40,730.90 L618.20,729.60 L618.00,729.53M613.70,728.01 L609.70,726.60 L604.80,723.50 L603.70,722.95M599.40,720.80 L596.20,719.20 L590.10,716.20 L589.47,715.50M585.59,711.20 L584.60,710.10 L583.40,703.30 L582.16,701.20M579.63,696.90 L579.10,696.00 L572.40,692.30 L573.08,689.90M574.29,685.60 L574.80,683.80 L570.60,680.70 L566.60,678.42M562.30,675.97 L562.00,675.80 L570.00,670.30 L569.74,668.60M569.08,664.30 L568.70,661.80 L569.30,655.70 L568.71,654.30M566.91,650.00 L565.70,647.10 L562.00,642.80 L559.20,641.89M554.90,640.48 L552.80,639.80 L547.30,637.90 L544.90,636.59M540.60,634.23 L538.90,633.30 L533.40,631.50 L530.60,630.01M526.30,627.72 L524.20,626.60 L529.10,622.90 L530.31,619.90M532.04,615.60 L532.80,613.70 L531.00,608.90 L527.70,607.25M523.40,605.10 L522.40,604.60 L516.30,603.30 L513.40,601.04M509.10,597.69 L507.70,596.60 L501.60,592.30 L502.87,589.80M505.05,585.50 L505.30,585.00 L507.70,578.90 L507.49,575.50M507.23,571.20 L507.10,569.10 L507.70,564.80 L510.48,561.20M513.80,556.90 L513.80,556.90 L516.30,550.80 L516.84,546.90M517.44,542.60 L517.50,542.20 L523.50,537.50 L524.98,533.90M526.75,529.60 L527.00,529.00 L529.90,522.30 L531.34,519.60M533.63,515.30 L534.80,513.10 L540.30,508.20 L540.79,505.90M541.70,501.60 L542.10,499.70 L542.10,494.20 L540.64,491.60M538.23,487.30 L536.60,484.40 L534.20,480.10 L531.40,478.01M527.10,474.81 L524.40,472.80 L520.10,470.30 L517.10,467.88M512.80,464.42 L510.30,462.40 L506.70,459.30 L502.80,456.11M498.50,452.60 L496.30,450.80 L492.00,445.90 L489.10,443.36M484.80,439.58 L482.20,437.30 L477.70,433.30 L474.80,430.83M470.50,427.17 L468.30,425.30 L463.70,421.30 L460.50,418.58M456.20,414.92 L454.30,413.30 L450.30,408.70 L447.36,405.20M443.76,400.90 L443.00,400.00 L440.30,394.70 L439.84,390.90M439.32,386.60 L439.00,384.00 L437.00,380.70 L434.17,376.60M431.21,372.30 L431.00,372.00 L431.00,366.70 L430.18,362.30M429.37,358.00 L429.00,356.00 L427.70,352.00 L427.06,348.00M426.36,343.70 L426.30,343.30 L426.30,340.00 L426.21,333.70M426.15,329.40 L426.10,325.60 L426.78,319.40M427.29,315.10 L427.80,312.20 L428.58,305.10M429.46,300.80 L431.10,296.70 L433.29,290.80M434.54,286.50 L435.00,282.20 L437.22,276.50M438.90,272.20 L438.90,272.20 L441.70,267.80 L445.85,262.20M448.92,257.90 L451.10,254.40 L456.05,247.90M459.76,243.60 L462.20,241.10 L468.05,233.60M471.53,229.30 L472.80,227.80 L480.84,219.30M485.00,215.23 L487.80,212.80 L494.55,205.60M498.70,201.53 L501.10,199.40 L508.70,192.26M513.00,188.39 L515.00,186.70 L523.00,179.58M527.25,175.50 L529.40,173.30 L537.20,165.58M541.50,161.51 L551.50,152.31M555.80,148.36 L565.80,139.16M570.10,135.20 L571.30,134.10 L580.10,125.68M584.40,121.75 L584.90,121.30 L594.40,112.09M598.70,108.50 L599.30,108.00 L608.20,98.70 L608.30,98.61M612.60,94.67 L612.90,94.40 L622.20,85.50 L622.60,85.23M626.90,82.27 L627.30,82.00 L636.90,73.45" stroke-linecap="butt"/></g><g opacity="0.999"><text x="222.3" y="52" font-size="25.5" stroke="#000" stroke-width="0.35" textLength="161.0" lengthAdjust="spacingAndGlyphs">Scanning-HIS</text><text x="390.8" y="52" font-size="25.5" stroke="#000" stroke-width="0.35" textLength="75.5" lengthAdjust="spacingAndGlyphs">RT-DR</text><text x="474.8" y="52" font-size="25.5" stroke="#000" stroke-width="0.35" textLength="62.0" lengthAdjust="spacingAndGlyphs">Mean</text><text x="544.8" y="52" font-size="25.5" stroke="#000" stroke-width="0.35" textLength="104.0" lengthAdjust="spacingAndGlyphs">Retrieval</text><text x="656.5" y="52" font-size="25.5" stroke="#000" stroke-width="0.35" textLength="5.0" lengthAdjust="spacingAndGlyphs">:</text><text x="667.8" y="52" font-size="25.5" stroke="#000" stroke-width="0.35" textLength="140.2" lengthAdjust="spacingAndGlyphs">26-Sep-2012</text><text x="814.3" y="52" font-size="25.5" stroke="#000" stroke-width="0.35" textLength="90.0" lengthAdjust="spacingAndGlyphs">20:25:11</text><text x="912.1" y="52" font-size="25.5" stroke="#000" stroke-width="0.35" textLength="8.7" lengthAdjust="spacingAndGlyphs">-</text><text x="925.6" y="52" font-size="25.5" stroke="#000" stroke-width="0.35" textLength="93.4" lengthAdjust="spacingAndGlyphs">20:26:06</text><text x="150.3" y="101" font-size="18.5" font-weight="bold" text-anchor="end">50</text><text x="150.3" y="142" font-size="18.5" font-weight="bold" text-anchor="end">60</text><text x="150.3" y="178" font-size="18.5" font-weight="bold" text-anchor="end">70</text><text x="150.3" y="208" font-size="18.5" font-weight="bold" text-anchor="end">80</text><text x="150.3" y="235" font-size="18.5" font-weight="bold" text-anchor="end">90</text><text x="150.3" y="260" font-size="18.5" font-weight="bold" text-anchor="end">100</text><text x="150.3" y="419" font-size="18.5" font-weight="bold" text-anchor="end">200</text><text x="150.3" y="512" font-size="18.5" font-weight="bold" text-anchor="end">300</text><text x="150.3" y="578" font-size="18.5" font-weight="bold" text-anchor="end">400</text><text x="150.3" y="629" font-size="18.5" font-weight="bold" text-anchor="end">500</text><text x="150.3" y="671" font-size="18.5" font-weight="bold" text-anchor="end">600</text><text x="150.3" y="706" font-size="18.5" font-weight="bold" text-anchor="end">700</text><text x="150.3" y="736" font-size="18.5" font-weight="bold" text-anchor="end">800</text><text x="150.3" y="763" font-size="18.5" font-weight="bold" text-anchor="end">900</text><text x="150.3" y="788" font-size="18.5" font-weight="bold" text-anchor="end">1000</text><text x="203.5" y="830" font-size="18" font-weight="bold" text-anchor="middle">-40</text><text x="307.5" y="830" font-size="18" font-weight="bold" text-anchor="middle">-30</text><text x="410.5" y="830" font-size="18" font-weight="bold" text-anchor="middle">-20</text><text x="513.5" y="830" font-size="18" font-weight="bold" text-anchor="middle">-10</text><text x="621.5" y="830" font-size="18" font-weight="bold" text-anchor="middle">0</text><text x="724.5" y="830" font-size="18" font-weight="bold" text-anchor="middle">10</text><text x="827.5" y="830" font-size="18" font-weight="bold" text-anchor="middle">20</text><text x="931.5" y="830" font-size="18" font-weight="bold" text-anchor="middle">30</text><text x="1034.5" y="830" font-size="18" font-weight="bold" text-anchor="middle">40</text><text x="545.5" y="856" font-size="19.3" font-weight="bold" textLength="148.5" lengthAdjust="spacingAndGlyphs">Temperature (C)</text><text transform="translate(96.5,500.5) rotate(-90)" x="0" y="0" font-size="19.5" font-weight="bold" textLength="128.5" lengthAdjust="spacingAndGlyphs">Pressure (mb)</text><text x="1105.5" y="700.6" font-size="18" font-weight="bold">683</text><text x="1105.5" y="708.2" font-size="18" font-weight="bold">706</text><text x="1105.5" y="715.5" font-size="18" font-weight="bold">729</text><text x="1105.5" y="723.6" font-size="18" font-weight="bold">755</text><text x="1105.5" y="730.4" font-size="18" font-weight="bold">778</text><text x="1105.5" y="737.4" font-size="18" font-weight="bold">802</text><text x="1105.5" y="744.7" font-size="18" font-weight="bold">828</text><text x="1105.5" y="752.1" font-size="18" font-weight="bold">855</text><text x="1105.5" y="758.7" font-size="18" font-weight="bold">880</text><text x="1105.5" y="764.9" font-size="18" font-weight="bold">904</text></g></svg></body></html>
